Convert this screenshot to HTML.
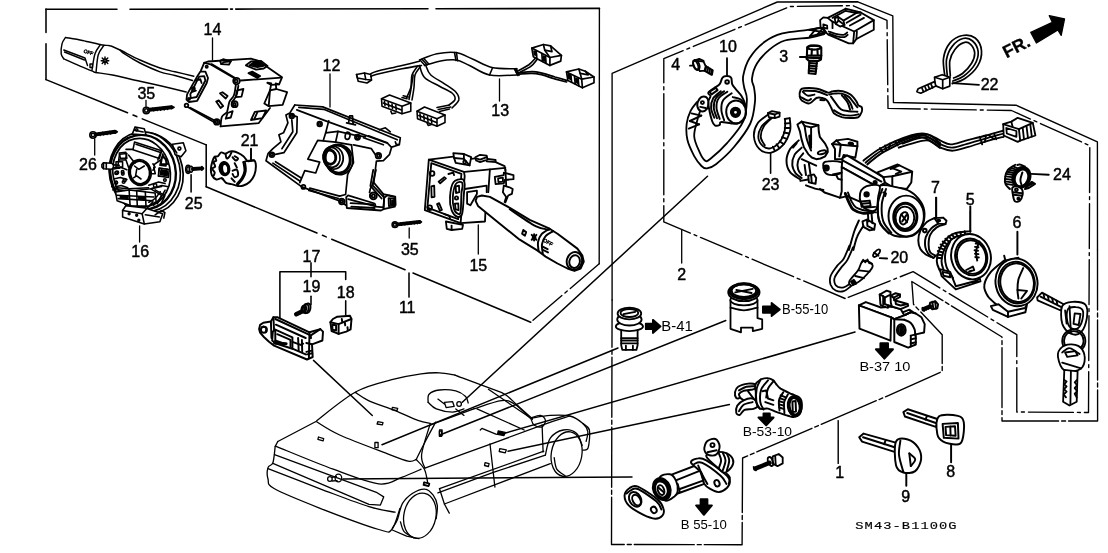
<!DOCTYPE html>
<html><head><meta charset="utf-8"><title>SM43-B1100G</title>
<style>
html,body{margin:0;padding:0;background:#fff;}
svg{display:block;filter:grayscale(1)}
svg *{vector-effect:none}
text{font-family:"Liberation Sans",sans-serif;fill:#000;stroke:#000;stroke-width:0.45px}
</style></head><body>
<svg width="1108" height="553" viewBox="0 0 1108 553" fill="none" stroke="#000" stroke-linejoin="round" stroke-linecap="round">
<polyline points="46.0,9.3 117.0,9.2" stroke-width="1.56"/>
<polyline points="130.0,9.2 227.6,9.1" stroke-width="1.56"/>
<polyline points="230.5,9.1 232.5,9.1" stroke-width="1.56"/>
<polyline points="235.7,9.1 428.0,8.8" stroke-width="1.56"/>
<polyline points="436.0,8.8 599.5,8.4" stroke-width="1.56"/>
<polyline points="46.0,9.0 46.0,32.5" stroke-width="1.56"/>
<polyline points="46.0,43.7 46.0,79.6" stroke-width="1.56"/>
<polyline points="46.0,79.6 206.2,144.9" stroke-width="1.56" stroke-dasharray="88 6 4 6"/>
<polyline points="206.2,144.9 206.2,186.8" stroke-width="1.56"/>
<polyline points="206.2,186.8 405.0,269.8" stroke-width="1.56" stroke-dasharray="120 6 4 6"/>
<polyline points="413.0,273.0 530.7,322.2" stroke-width="1.56"/>
<polyline points="612.1,300.0 612.1,73.4 777.3,2.0 857.8,1.8 892.8,15.8 893.4,102.5 1016.0,105.2 1097.4,141.9 1097.5,250.0" stroke-width="1.37"/>
<polyline points="1097.5,250.0 1097.6,421.0 1002.0,421.0 1002.0,337.0 911.8,281.5 913.5,304.3 942.2,334.7 942.2,371.4 885.0,397.0 742.6,458.0 742.1,544.7 611.5,544.5 612.1,300.0" stroke-width="1.37" stroke-dasharray="60 3 4 3"/>
<polyline points="845.1,298.5 663.8,221.9 663.8,58.7 790.0,6.5 853.0,5.6 887.0,20.3 888.0,108.4 1011.5,110.5 1089.8,145.7 1088.5,412.5 1016.8,412.0 1016.8,334.7 913.1,271.7 845.1,298.5" stroke-width="1.37" stroke-dasharray="45 4 3 4"/>
<polyline points="599.4,8.4 599.2,263.8" stroke-width="1.37"/>
<polyline points="599.2,263.8 530.7,322.2" stroke-width="1.37" stroke-dasharray="38 4 3 4"/>
<path d="M65.5,37.5C68.3,38.0 76.3,39.2 82.5,40.5C88.7,41.8 97.9,44.1 102.5,45.0C107.1,45.9 107.1,44.9 110.0,45.8C112.9,46.6 115.0,47.6 120.0,50.0C125.0,52.4 133.3,57.0 140.0,60.0C146.7,63.0 154.2,66.0 160.0,68.0C165.8,70.0 169.4,70.4 175.0,71.8C180.6,73.1 190.6,75.5 193.8,76.2" fill="none" stroke-width="1.43"/>
<path d="M65.5,37.5C64.9,38.5 62.7,41.0 62.0,43.8C61.3,46.5 61.0,51.2 61.2,53.8C61.5,56.2 63.3,57.9 63.8,58.8" fill="none" stroke-width="1.43"/>
<path d="M63.8,58.8C65.6,59.6 70.2,61.7 75.0,63.8C79.8,65.8 89.0,69.8 92.5,71.2C96.0,72.7 92.4,71.9 95.8,72.5C99.1,73.1 105.1,73.5 112.5,75.0C119.9,76.5 131.7,79.4 140.0,81.2C148.3,83.1 154.8,84.5 162.5,86.2C170.2,88.0 182.3,91.0 186.2,92.0" fill="none" stroke-width="1.43"/>
<path d="M100.5,44.5C99.6,46.0 96.4,49.5 95.0,53.8C93.6,58.0 92.5,67.3 92.0,70.0" fill="none" stroke-width="1.43"/>
<path d="M103.8,45.5C102.8,47.1 99.5,50.5 98.2,55.0C97.0,59.5 96.4,69.6 96.0,72.5" fill="none" stroke-width="1.43"/>
<path d="M120.0,50.0C120.8,50.7 121.7,52.1 125.0,54.2C128.3,56.4 134.2,60.1 140.0,63.0C145.8,65.9 154.2,69.7 160.0,71.8C165.8,73.8 169.6,74.0 175.0,75.5C180.4,77.0 189.6,79.7 192.5,80.5" fill="none" stroke-width="1.43"/>
<polyline points="63.8,50.0 85.0,58.0 87.5,65.5" stroke-width="1.43"/>
<polyline points="64.5,52.0 84.5,60.0" stroke-width="1.43"/>
<text x="88.0" y="54.0" font-size="5.0" text-anchor="middle" transform="rotate(18.0 88.0 54.0)">OFF</text>
<circle cx="105.0" cy="60.8" r="1.8" fill="none" stroke-width="1.43"/>
<polyline points="105.0,57.0 105.0,64.5" stroke-width="1.43"/>
<polyline points="101.2,60.8 108.8,60.8" stroke-width="1.43"/>
<polyline points="102.2,58.0 107.8,63.5" stroke-width="1.43"/>
<polyline points="107.8,58.0 102.2,63.5" stroke-width="1.43"/>
<circle cx="105.0" cy="60.8" r="1.2" fill="#fff" stroke-width="1.43"/>
<polygon points="90.0,64.0 92.5,64.0 92.5,67.5 90.0,67.5" stroke-width="1.43"/>
<polyline points="201.0,70.4 204.2,62.8 208.0,61.5 251.0,58.7 258.6,60.9 282.0,77.3 279.1,84.3 271.3,84.9 267.5,83.0" stroke-width="1.82"/>
<polyline points="204.2,62.8 211.8,64.7" stroke-width="1.82"/>
<polyline points="211.8,64.7 234.6,78.0" stroke-width="2.6"/>
<circle cx="206.7" cy="66.8" r="1.1" fill="none" stroke-width="1.82"/>
<polygon points="200.4,71.6 205.4,71.6 208.0,78.0 206.7,83.0 197.2,100.8 189.0,102.0 186.5,99.5 187.1,94.4 197.8,75.4" fill="#fff" stroke-width="1.82"/>
<polygon points="199.1,76.7 204.2,76.1 205.4,80.5 196.6,97.0 190.9,98.2 190.3,94.4" stroke-width="1.82"/>
<circle cx="193.4" cy="88.7" r="1.5" fill="none" stroke-width="1.82"/>
<polyline points="195.3,80.5 200.4,79.2 201.6,83.0" stroke-width="1.82"/>
<polyline points="192.2,91.9 195.9,90.6" stroke-width="1.82"/>
<circle cx="189.0" cy="98.9" r="1.0" fill="none" stroke-width="1.82"/>
<circle cx="236.5" cy="81.1" r="3.3" fill="none" stroke-width="1.82"/>
<circle cx="236.1" cy="81.1" r="1.5" fill="none" stroke-width="1.82"/>
<polyline points="240.9,80.5 281.4,77.7" stroke-width="1.82"/>
<polygon points="220.0,60.9 223.2,59.2 230.8,61.3 228.9,64.7 221.3,64.1" stroke-width="1.82"/>
<polyline points="221.3,64.1 223.8,62.2 230.8,61.3" stroke-width="1.82"/>
<polygon points="245.9,65.3 251.0,61.5 261.1,60.9 267.5,65.9 263.7,68.5 256.1,69.7" stroke-width="1.82"/>
<polygon points="249.7,65.3 252.9,63.0 260.5,62.8 263.7,65.9 257.3,67.2" stroke-width="1.82"/>
<polygon points="252.3,64.1 258.6,63.4 261.1,65.3 254.8,66.3" fill="#000" stroke-width="1.82"/>
<polygon points="248.5,73.2 252.3,71.6 260.1,76.1 257.3,78.0" stroke-width="1.82"/>
<polygon points="250.4,73.5 252.3,72.7 258.6,76.1 257.1,77.0" fill="#000" stroke-width="1.82"/>
<circle cx="186.5" cy="105.4" r="1.8" fill="none" stroke-width="1.82"/>
<polyline points="187.7,107.0 214.3,122.2" stroke-width="1.82"/>
<polyline points="190.3,107.7 213.7,120.0" stroke-width="1.82"/>
<circle cx="216.8" cy="121.9" r="2.8" fill="none" stroke-width="1.82"/>
<circle cx="216.8" cy="121.9" r="1.3" fill="none" stroke-width="1.82"/>
<polyline points="220.6,126.3 258.6,123.2 270.0,108.0" stroke-width="1.82"/>
<path d="M235.8,85.2C235.5,86.9 235.0,92.6 233.9,95.3C232.9,98.1 230.7,98.9 229.5,101.6C228.3,104.4 228.2,109.2 227.0,111.8C225.7,114.3 223.0,114.4 221.9,116.8C220.8,119.3 220.8,124.7 220.6,126.3" fill="none" stroke-width="1.82"/>
<path d="M238.4,85.8C238.0,87.4 237.5,92.6 236.5,95.3C235.4,98.1 232.8,101.1 232.0,102.3" fill="none" stroke-width="1.82"/>
<polygon points="237.1,90.3 243.4,89.0 241.5,96.6 235.8,97.2" stroke-width="1.82"/>
<polygon points="227.6,113.0 232.7,111.1 230.8,117.5 225.7,118.7" stroke-width="1.82"/>
<circle cx="234.6" cy="104.2" r="3.0" fill="none" stroke-width="1.82"/>
<circle cx="234.3" cy="104.2" r="1.3" fill="none" stroke-width="1.82"/>
<polygon points="220.0,93.4 222.5,92.2 227.6,95.9 225.7,98.5" stroke-width="1.82"/>
<polygon points="216.2,101.6 218.7,100.4 223.2,106.1 220.6,108.0" stroke-width="1.82"/>
<polyline points="267.5,82.7 271.3,83.3 270.0,90.3" stroke-width="1.82"/>
<polygon points="270.0,90.3 276.3,89.0 287.1,92.2 282.7,104.8 268.7,106.1 264.3,103.5" stroke-width="1.82"/>
<polyline points="270.0,90.3 268.7,106.1" stroke-width="1.82"/>
<polyline points="276.3,89.0 275.7,83.3 278.9,84.3" stroke-width="1.82"/>
<polygon points="254.8,111.8 266.2,110.5 262.4,118.1 251.0,120.0" stroke-width="1.82"/>
<polyline points="257.3,112.4 254.2,119.4" stroke-width="1.82"/>
<polyline points="294.8,105.0 322.7,106.9 400.3,137.8 399.3,144.8 391.7,147.1 389.4,154.7 383.4,160.7 376.4,161.1 373.8,182.6 383.4,194.1 395.3,196.5 395.7,205.0" stroke-width="1.69"/>
<polyline points="294.8,105.0 289.9,112.9 285.9,114.9 287.9,122.9 283.5,132.8 278.9,134.8 280.9,141.8 272.9,148.7 268.0,153.7 266.0,160.7 301.8,186.9 339.6,200.9 345.6,205.0" stroke-width="1.69"/>
<polyline points="296.8,109.9 325.7,120.9 387.4,143.2 391.3,147.1" stroke-width="1.69"/>
<polyline points="298.8,107.3 323.7,109.3 397.3,139.8" stroke-width="1.69"/>
<polyline points="291.8,114.9 297.2,116.9 296.8,132.8 283.9,152.7 274.3,154.7" stroke-width="1.69"/>
<polyline points="291.8,119.9 292.8,131.8 281.9,148.7" stroke-width="1.69"/>
<polyline points="272.9,163.1 299.8,181.0" stroke-width="1.69"/>
<polyline points="275.5,161.7 301.2,178.0" stroke-width="1.69"/>
<polyline points="308.8,190.5 338.6,198.5" stroke-width="1.69"/>
<polyline points="309.8,188.1 339.6,196.1" stroke-width="1.69"/>
<circle cx="291.8" cy="115.9" r="2.4" fill="none" stroke-width="1.69"/>
<circle cx="291.8" cy="115.9" r="1.2" fill="none" stroke-width="1.69"/>
<circle cx="319.7" cy="123.9" r="2.4" fill="none" stroke-width="1.69"/>
<circle cx="319.7" cy="123.9" r="1.2" fill="none" stroke-width="1.69"/>
<circle cx="357.5" cy="137.2" r="2.6" fill="none" stroke-width="1.69"/>
<circle cx="357.5" cy="137.2" r="1.2" fill="none" stroke-width="1.69"/>
<circle cx="378.4" cy="155.7" r="2.8" fill="none" stroke-width="1.69"/>
<circle cx="378.4" cy="155.7" r="1.4" fill="none" stroke-width="1.69"/>
<circle cx="271.9" cy="154.7" r="2.4" fill="none" stroke-width="1.69"/>
<circle cx="271.9" cy="154.7" r="1.2" fill="none" stroke-width="1.69"/>
<circle cx="303.4" cy="186.9" r="2.0" fill="none" stroke-width="1.69"/>
<circle cx="341.6" cy="200.5" r="2.0" fill="none" stroke-width="1.69"/>
<circle cx="372.4" cy="195.5" r="2.4" fill="none" stroke-width="1.69"/>
<circle cx="372.4" cy="195.5" r="1.2" fill="none" stroke-width="1.69"/>
<ellipse cx="347.6" cy="135.8" rx="2.4" ry="3.6" fill="none" transform="rotate(10.0 347.6 135.8)" stroke-width="1.69"/>
<polyline points="348.6,122.9 349.6,115.9 352.5,115.9 353.1,123.9" stroke-width="1.69"/>
<polyline points="346.6,122.9 355.5,124.9" stroke-width="1.69"/>
<polyline points="379.4,129.8 385.4,127.8 390.3,131.8" stroke-width="1.69"/>
<polyline points="395.3,141.8 396.3,144.8 398.3,144.4" stroke-width="1.69"/>
<polyline points="328.7,120.9 325.7,132.8 338.0,131.4 335.6,142.2 317.7,140.4 307.8,159.1 319.7,162.1 315.7,173.0 304.8,170.6 299.8,182.6" stroke-width="1.69"/>
<polyline points="325.7,132.8 323.3,140.4" stroke-width="1.69"/>
<polyline points="338.0,131.4 353.5,134.8 365.5,136.8" stroke-width="1.69"/>
<polyline points="351.5,144.8 353.5,162.7 347.6,174.6 345.6,194.5 339.6,196.1" stroke-width="1.69"/>
<polyline points="335.6,142.2 351.5,144.8" stroke-width="1.69"/>
<polyline points="353.5,144.8 371.4,148.7 375.4,154.7" stroke-width="1.69"/>
<polyline points="363.5,137.8 383.4,144.8" stroke-width="1.69"/>
<polyline points="368.5,135.8 387.4,142.8" stroke-width="1.69"/>
<polyline points="373.8,182.6 370.4,188.5 369.5,192.5" stroke-width="1.69"/>
<polyline points="383.4,194.1 384.4,205.0" stroke-width="1.69"/>
<polyline points="389.4,195.5 390.3,205.0" stroke-width="1.69"/>
<ellipse cx="339.2" cy="159.7" rx="13.5" ry="15.1" fill="#fff" transform="rotate(-10.0 339.2 159.7)" stroke-width="1.69"/>
<ellipse cx="338.0" cy="159.1" rx="11.5" ry="13.5" fill="none" transform="rotate(-10.0 338.0 159.1)" stroke-width="1.69"/>
<ellipse cx="333.2" cy="157.7" rx="10.0" ry="11.5" fill="#fff" transform="rotate(-10.0 333.2 157.7)" stroke-width="1.69"/>
<ellipse cx="331.6" cy="157.3" rx="8.4" ry="10.0" fill="none" transform="rotate(-10.0 331.6 157.3)" stroke-width="1.69"/>
<ellipse cx="330.0" cy="157.1" rx="5.2" ry="6.6" fill="#fff" transform="rotate(-10.0 330.0 157.1)" stroke-width="1.69"/>
<ellipse cx="338.0" cy="159.1" rx="12.5" ry="14.3" fill="none" transform="rotate(-10.0 338.0 159.1)" stroke-width="2.34"/>
<ellipse cx="330.0" cy="157.1" rx="6.0" ry="7.4" fill="none" transform="rotate(-10.0 330.0 157.1)" stroke-width="2.34"/>
<polygon points="346.2,197.2 348.1,195.3 374.7,203.5 375.9,206.7 383.5,207.3 384.2,197.8 387.3,195.3 394.9,197.2 394.9,206.7 383.5,209.2 381.0,210.5 346.8,208.0" fill="#fff" stroke-width="1.82"/>
<polyline points="348.1,199.1 374.7,206.1" stroke-width="1.82"/>
<polyline points="350.6,203.2 373.4,204.4" stroke-width="1.82"/>
<polyline points="351.3,206.7 374.7,208.0" stroke-width="1.82"/>
<polyline points="384.2,197.8 383.5,209.2" stroke-width="1.82"/>
<polygon points="388.6,198.1 393.9,198.6 393.9,205.7 388.9,206.2" stroke-width="1.82"/>
<polyline points="390.5,199.7 390.5,204.2 392.4,204.2 392.4,200.4" stroke-width="1.82"/>
<circle cx="341.8" cy="201.6" r="2.8" fill="#fff" stroke-width="1.82"/>
<circle cx="341.8" cy="201.6" r="1.3" fill="none" stroke-width="1.82"/>
<circle cx="373.4" cy="195.9" r="3.4" fill="#fff" stroke-width="1.82"/>
<circle cx="373.4" cy="195.9" r="1.6" fill="none" stroke-width="1.82"/>
<polyline points="375.9,170.0 372.4,185.2 383.8,197.2" stroke-width="1.82"/>
<polyline points="373.2,170.0 370.4,185.8 381.6,198.5" stroke-width="1.82"/>
<path d="M419.5,60.0C422.4,59.0 431.0,55.0 437.0,53.8C443.0,52.5 449.9,51.7 455.8,52.5C461.6,53.3 466.0,56.2 472.0,58.8C478.0,61.2 484.5,65.8 492.0,67.5C499.5,69.2 512.8,68.5 517.0,68.8" fill="none" stroke-width="1.56"/>
<path d="M424.5,65.5C427.0,64.8 434.3,62.2 439.5,61.2C444.7,60.3 450.8,59.3 455.8,60.0C460.8,60.7 463.9,63.0 469.5,65.5C475.1,68.0 481.6,73.4 489.5,75.0C497.4,76.6 512.4,75.0 517.0,75.0" fill="none" stroke-width="1.56"/>
<polyline points="420.0,60.0 425.0,65.5" stroke-width="1.56"/>
<polyline points="422.0,59.2 427.0,64.8" stroke-width="1.56"/>
<polyline points="424.0,58.8 428.8,64.0" stroke-width="1.56"/>
<polyline points="454.5,52.5 456.0,60.5" stroke-width="1.56"/>
<polyline points="456.5,52.5 457.5,60.8" stroke-width="1.56"/>
<polyline points="492.5,68.0 489.5,75.0" stroke-width="1.56"/>
<polyline points="514.5,68.8 517.5,75.0" stroke-width="1.56"/>
<polyline points="516.2,68.5 519.0,74.5" stroke-width="1.56"/>
<path d="M419.5,61.2C416.6,62.0 409.1,63.8 402.0,65.5C394.9,67.2 382.2,69.9 377.0,71.2C371.8,72.6 371.8,73.3 370.8,73.8" fill="none" stroke-width="1.56"/>
<path d="M421.5,65.5C418.2,66.0 409.4,67.3 402.0,68.8C394.6,70.2 382.2,73.0 377.0,74.2C371.8,75.5 371.8,76.1 370.8,76.5" fill="none" stroke-width="1.56"/>
<polygon points="356.5,74.5 364.5,73.0 370.8,74.5 371.5,80.0 367.0,83.0 358.2,81.2" stroke-width="1.56"/>
<polyline points="356.5,74.5 357.5,78.0 365.8,79.5 371.5,80.0" stroke-width="1.56"/>
<polyline points="365.8,79.5 364.5,73.0" stroke-width="1.56"/>
<path d="M417.5,66.2C416.6,67.7 413.1,71.5 412.0,75.0C410.9,78.5 411.7,83.7 410.8,87.5C409.8,91.3 407.2,96.2 406.5,98.0" fill="none" stroke-width="1.56"/>
<path d="M420.0,67.0C419.2,68.3 416.0,71.6 415.0,75.0C414.0,78.4 414.5,83.3 414.0,87.5C413.5,91.7 412.3,97.9 412.0,100.0" fill="none" stroke-width="1.56"/>
<path d="M413.2,75.0C412.8,77.5 411.5,85.9 410.8,90.0C410.0,94.1 409.3,97.9 409.0,99.5" fill="none" stroke-width="1.56"/>
<polygon points="381.5,98.8 389.5,95.0 410.8,103.0 410.8,111.2 402.0,113.8 382.0,106.2" fill="#fff" stroke-width="1.56"/>
<polyline points="381.5,98.8 402.0,106.2 402.0,113.8" stroke-width="1.56"/>
<polyline points="402.0,106.2 410.8,103.0" stroke-width="1.56"/>
<polyline points="384.5,101.2 385.0,105.5" stroke-width="1.56"/>
<polyline points="388.2,102.5 388.8,107.0" stroke-width="1.56"/>
<polyline points="392.0,104.0 392.5,108.5" stroke-width="1.56"/>
<polyline points="395.8,105.2 396.2,110.0" stroke-width="1.56"/>
<polyline points="383.2,103.0 401.5,110.0" stroke-width="1.56"/>
<polyline points="390.8,111.2 392.0,113.8 395.8,113.0" stroke-width="1.56"/>
<polyline points="402.0,97.5 407.0,98.8" stroke-width="1.56"/>
<polyline points="403.2,95.8 408.2,97.0" stroke-width="1.56"/>
<path d="M419.5,65.5C420.3,67.5 421.2,74.0 424.5,77.5C427.8,81.0 434.9,83.7 439.5,86.2C444.1,88.8 449.4,90.8 452.0,93.0C454.6,95.2 455.5,97.5 455.0,99.5C454.5,101.5 450.0,104.1 449.0,105.0" fill="none" stroke-width="1.56"/>
<path d="M425.8,65.5C426.6,67.1 427.6,72.0 430.8,75.0C433.9,78.0 440.3,80.9 444.5,83.8C448.7,86.6 453.4,89.3 455.8,92.0C458.1,94.7 459.4,97.3 458.8,100.0C458.1,102.7 453.1,106.7 452.0,108.0" fill="none" stroke-width="1.56"/>
<polygon points="417.0,111.2 424.5,107.0 445.0,115.0 445.0,122.5 437.0,126.2 417.5,118.8" fill="#fff" stroke-width="1.56"/>
<polyline points="417.0,111.2 437.0,118.8 437.0,126.2" stroke-width="1.56"/>
<polyline points="437.0,118.8 445.0,115.0" stroke-width="1.56"/>
<polyline points="420.0,113.8 420.5,118.5" stroke-width="1.56"/>
<polyline points="423.8,115.2 424.2,120.0" stroke-width="1.56"/>
<polyline points="427.5,116.8 428.0,121.5" stroke-width="1.56"/>
<polyline points="431.2,118.2 431.8,123.0" stroke-width="1.56"/>
<polyline points="418.8,115.5 436.5,122.5" stroke-width="1.56"/>
<polyline points="427.0,123.0 428.2,125.5 431.5,124.5" stroke-width="1.56"/>
<polyline points="437.0,107.5 449.5,105.0" stroke-width="1.56"/>
<polyline points="438.2,109.5 450.8,107.0" stroke-width="1.56"/>
<polyline points="439.5,111.5 449.5,109.0" stroke-width="1.56"/>
<polyline points="516.2,69.3 519.1,75.1" stroke-width="1.69"/>
<polyline points="515.0,69.6 517.9,75.4" stroke-width="1.69"/>
<path d="M518.8,70.5C520.5,69.5 526.1,66.7 528.9,64.7C531.7,62.6 534.3,59.3 535.4,58.2" fill="none" stroke-width="1.69"/>
<path d="M520.2,72.2C522.0,71.2 528.3,68.2 531.1,66.1C533.9,64.0 535.9,60.7 536.9,59.6" fill="none" stroke-width="1.69"/>
<path d="M518.8,72.6C521.7,72.5 530.1,71.2 536.1,71.9C542.2,72.6 549.8,75.5 554.9,77.0C560.1,78.4 565.2,80.0 567.2,80.6" fill="none" stroke-width="1.69"/>
<path d="M518.8,74.1C521.7,74.0 530.2,72.9 536.1,73.7C542.0,74.4 549.2,77.3 554.2,78.7C559.3,80.1 564.5,81.5 566.5,82.0" fill="none" stroke-width="1.69"/>
<polygon points="531.8,48.1 543.4,44.5 550.6,45.9 561.4,55.3 560.7,61.1 549.9,65.4 533.3,56.7" fill="#fff" stroke-width="1.69"/>
<polyline points="531.8,48.1 549.9,57.5 549.9,65.4" stroke-width="1.69"/>
<polyline points="549.9,57.5 561.4,55.3" stroke-width="1.69"/>
<polyline points="536.1,51.0 536.9,58.6" stroke-width="1.69"/>
<polyline points="541.9,54.1 542.4,61.5" stroke-width="1.69"/>
<polyline points="545.5,56.3 546.0,63.3" stroke-width="1.69"/>
<polyline points="543.4,44.5 544.8,50.2 552.0,51.7 550.6,45.9" stroke-width="1.69"/>
<polyline points="544.8,50.2 549.9,57.5" stroke-width="1.69"/>
<polygon points="534.0,51.0 536.1,51.7 536.4,55.3 534.4,54.6" fill="#000" stroke-width="1.69"/>
<polygon points="543.4,56.0 545.1,56.9 545.4,61.1 543.7,60.4" fill="#000" stroke-width="1.69"/>
<polygon points="566.5,71.9 578.8,69.0 585.3,71.2 594.0,77.0 594.0,82.8 582.4,87.8 567.9,80.6" fill="#fff" stroke-width="1.69"/>
<polyline points="566.5,71.9 581.7,79.2 582.4,87.8" stroke-width="1.69"/>
<polyline points="581.7,79.2 594.0,77.0" stroke-width="1.69"/>
<polyline points="570.8,74.5 571.6,82.0" stroke-width="1.69"/>
<polyline points="574.5,76.6 575.2,83.8" stroke-width="1.69"/>
<polyline points="578.1,78.3 578.8,85.8" stroke-width="1.69"/>
<polyline points="578.8,69.0 580.2,73.4 588.2,74.8 585.3,71.2" stroke-width="1.69"/>
<polyline points="580.2,73.4 581.7,79.2" stroke-width="1.69"/>
<polygon points="568.2,74.1 570.3,75.1 570.6,79.2 568.7,78.3" fill="#000" stroke-width="1.69"/>
<polygon points="575.9,78.4 577.6,79.3 577.9,83.2 576.2,82.3" fill="#000" stroke-width="1.69"/>
<polygon points="428.8,159.7 463.9,171.9 464.7,175.9 460.6,223.2 424.8,210.1" stroke-width="1.82"/>
<polygon points="431.3,163.2 461.4,173.8 458.2,219.1 427.4,207.7" stroke-width="1.82"/>
<polyline points="428.8,159.7 453.3,156.7" stroke-width="1.82"/>
<polyline points="471.2,158.8 475.3,158.4" stroke-width="1.82"/>
<polyline points="495.6,162.1 504.6,166.2 505.4,170.2" stroke-width="1.82"/>
<polyline points="464.7,171.9 489.9,169.4 505.4,167.8" stroke-width="1.82"/>
<polyline points="489.9,169.4 488.3,192.2" stroke-width="1.82"/>
<polyline points="505.4,169.4 506.2,185.7" stroke-width="1.82"/>
<polygon points="453.3,153.1 463.9,154.0 471.2,157.2 469.6,165.4 455.7,162.9 454.1,158.0" fill="#fff" stroke-width="1.82"/>
<polyline points="454.1,158.0 463.9,158.8 469.6,165.4" stroke-width="1.82"/>
<polyline points="463.9,154.0 463.9,158.8" stroke-width="1.82"/>
<circle cx="464.7" cy="162.1" r="1.5" fill="none" stroke-width="1.82"/>
<polygon points="475.3,157.2 480.1,154.8 486.7,155.6 487.5,159.7 480.1,162.1 476.1,160.5" fill="#fff" stroke-width="1.82"/>
<polyline points="476.1,158.4 480.1,159.7 486.7,157.2" stroke-width="1.82"/>
<polyline points="487.5,158.8 495.6,160.0 495.6,162.1 486.7,161.3" stroke-width="1.82"/>
<polyline points="494.8,176.8 503.8,175.1 503.8,172.7 513.5,175.1 513.5,179.2 504.6,180.0 503.8,183.3 495.6,184.1 494.8,176.8" stroke-width="1.82"/>
<polygon points="498.1,178.4 502.9,177.6 502.9,181.6 498.4,182.1" stroke-width="1.82"/>
<polyline points="503.8,185.7 509.5,187.3 512.7,189.0 511.9,193.9 508.2,195.5 505.4,202.3" stroke-width="1.82"/>
<polyline points="503.8,185.7 502.9,192.2 506.2,197.1 504.6,202.0" stroke-width="1.82"/>
<path d="M453.3,182.5C455.3,179.5 460.3,178.9 462.2,179.2C464.1,179.5 464.4,181.6 464.7,184.1C464.9,186.5 464.3,189.0 463.9,193.9C463.5,198.7 463.3,209.6 462.2,213.4C461.1,217.2 459.1,217.2 457.3,216.7C455.6,216.1 452.9,213.4 451.6,210.1C450.4,206.9 449.7,201.7 450.0,197.1C450.3,192.5 451.2,185.4 453.3,182.5Z" fill="#fff" stroke-width="1.82"/>
<path d="M455.7,184.1C457.2,181.6 460.3,181.9 461.4,182.1C462.6,182.4 462.6,183.8 462.6,185.7C462.6,187.7 461.7,189.5 461.4,193.9C461.1,198.2 461.2,208.5 460.6,211.8C460.0,215.1 458.8,214.1 457.7,213.7C456.6,213.3 454.9,212.1 454.1,209.3C453.3,206.6 452.5,201.3 452.8,197.1C453.1,192.9 454.3,186.6 455.7,184.1Z" fill="none" stroke-width="1.82"/>
<circle cx="456.5" cy="197.9" r="1.6" fill="none" stroke-width="1.82"/>
<polygon points="455.7,186.5 459.0,185.7 459.3,192.2 456.0,193.0" stroke-width="1.82"/>
<polygon points="454.9,203.6 458.2,203.3 458.6,210.1 455.7,209.3" stroke-width="1.82"/>
<polygon points="438.6,181.6 444.3,177.2 445.9,178.4 440.2,183.3" stroke-width="1.82"/>
<polygon points="431.3,186.5 434.2,185.7 434.5,196.8 431.6,197.4" stroke-width="1.82"/>
<polygon points="437.0,204.0 439.1,203.1 441.9,209.8 439.8,210.6" stroke-width="1.82"/>
<circle cx="432.1" cy="173.5" r="2.3" fill="none" stroke-width="1.82"/>
<circle cx="429.7" cy="207.7" r="2.3" fill="none" stroke-width="1.82"/>
<polyline points="448.4,174.0 453.3,172.7 454.1,175.1" stroke-width="1.82"/>
<polyline points="444.3,214.2 449.2,215.8 450.0,218.3" stroke-width="1.82"/>
<polyline points="464.7,189.0 486.7,185.7 486.7,192.2" stroke-width="1.82"/>
<polygon points="467.1,192.2 476.9,190.6 476.9,193.9 470.4,205.3 467.1,203.6" stroke-width="1.82"/>
<polyline points="460.6,223.2 485.0,221.5 485.4,211.8" stroke-width="1.82"/>
<polygon points="445.9,221.5 446.8,228.9 451.6,230.0 462.2,228.9 463.0,224.8" fill="#fff" stroke-width="1.82"/>
<polyline points="451.6,225.6 451.6,230.0" stroke-width="1.82"/>
<polygon points="477.0,196.9 481.9,195.5 489.9,196.9 509.8,207.8 529.7,219.8 549.6,228.7 557.5,233.7 577.4,248.6 582.4,255.6 583.8,261.6 580.6,268.5 574.4,270.9 567.5,268.5 557.5,263.5 545.6,256.6 537.6,250.6 519.7,239.7 499.8,223.8 478.0,205.9 475.6,200.9" fill="#fff" stroke-width="1.95"/>
<path d="M549.6,228.7C548.2,229.6 543.5,231.9 541.6,234.1C539.7,236.3 538.5,239.2 538.0,242.1C537.5,244.9 538.5,249.5 538.6,251.0" fill="none" stroke-width="1.95"/>
<path d="M553.2,231.1C551.9,232.0 547.4,233.9 545.6,236.1C543.7,238.3 542.5,241.1 542.0,244.1C541.5,247.0 542.7,252.0 542.8,253.6" fill="none" stroke-width="1.95"/>
<path d="M509.8,209.2C514.1,212.1 529.1,222.7 535.6,226.2C542.2,229.6 546.9,229.1 549.2,229.7" fill="none" stroke-width="1.95"/>
<ellipse cx="574.4" cy="261.0" rx="7.6" ry="9.0" fill="#fff" transform="rotate(15.0 574.4 261.0)" stroke-width="1.95"/>
<ellipse cx="574.6" cy="261.6" rx="5.2" ry="6.4" fill="none" transform="rotate(15.0 574.6 261.6)" stroke-width="1.95"/>
<text x="547.2" y="243.7" font-size="5.0" text-anchor="middle" transform="rotate(30.0 547.2 243.7)">OFF</text>
<polyline points="542.6,246.6 547.6,249.2" stroke-width="1.95"/>
<polyline points="543.2,250.0 548.0,252.4" stroke-width="1.95"/>
<polyline points="523.3,230.1 526.1,232.1 524.9,235.7 522.1,233.7 523.3,230.1" stroke-width="1.95"/>
<circle cx="534.1" cy="237.3" r="1.4" fill="none" stroke-width="1.95"/>
<polyline points="531.7,234.9 536.4,239.7" stroke-width="1.95"/>
<polyline points="536.4,234.9 531.7,239.7" stroke-width="1.95"/>
<polyline points="534.1,234.1 534.1,240.5" stroke-width="1.95"/>
<circle cx="394.9" cy="224.7" r="2.8" fill="#fff" stroke-width="1.56"/>
<circle cx="394.9" cy="224.7" r="1.5" fill="none" stroke-width="1.56"/>
<polyline points="397.7,224.4 419.6,221.9" stroke-width="3.9"/>
<polyline points="400.6,222.9 401.6,225.4" stroke-width="1.3"/>
<polyline points="403.8,222.5 404.8,225.1" stroke-width="1.3"/>
<polyline points="407.0,222.2 408.0,224.7" stroke-width="1.3"/>
<polyline points="410.1,221.9 411.1,224.4" stroke-width="1.3"/>
<polyline points="413.3,221.5 414.3,224.1" stroke-width="1.3"/>
<polyline points="416.5,221.3 417.5,223.8" stroke-width="1.3"/>
<polyline points="419.6,220.9 421.5,221.9 419.6,223.2" stroke-width="1.56"/>
<ellipse cx="146.9" cy="173.2" rx="36.0" ry="40.8" fill="none" transform="rotate(-12.0 146.9 173.2)" stroke-width="1.69"/>
<ellipse cx="144.7" cy="171.9" rx="35.4" ry="40.1" fill="#fff" transform="rotate(-12.0 144.7 171.9)" stroke-width="1.69"/>
<ellipse cx="141.6" cy="172.5" rx="28.6" ry="34.3" fill="none" transform="rotate(-12.0 141.6 172.5)" stroke-width="1.69"/>
<ellipse cx="143.0" cy="172.1" rx="32.6" ry="37.3" fill="none" transform="rotate(-12.0 143.0 172.1)" stroke-width="2.34"/>
<polygon points="132.3,134.1 135.1,126.9 144.3,128.7 146.0,135.0" fill="#fff" stroke-width="1.56"/>
<polyline points="134.5,130.2 143.2,131.9" stroke-width="1.56"/>
<circle cx="136.7" cy="129.8" r="1.1" fill="none" stroke-width="1.56"/>
<polygon points="172.5,144.3 183.3,142.8 185.9,150.8 181.1,156.7 175.1,154.5" fill="#fff" stroke-width="1.56"/>
<circle cx="179.4" cy="148.6" r="1.5" fill="none" stroke-width="1.56"/>
<polyline points="173.6,147.6 176.8,153.0" stroke-width="1.56"/>
<polygon points="101.9,164.5 103.5,162.7 111.7,163.2 113.4,164.9 113.4,167.5 111.7,169.3 103.5,168.8 101.9,167.1" fill="#fff" stroke-width="1.56"/>
<polyline points="106.3,163.0 106.3,169.0" stroke-width="1.56"/>
<polyline points="103.5,162.7 103.5,168.8" stroke-width="1.56"/>
<polyline points="113.4,164.9 119.3,165.3" stroke-width="1.56"/>
<polyline points="113.4,167.5 119.3,168.2" stroke-width="1.56"/>
<polygon points="134.5,142.1 161.6,150.8 159.4,158.4 133.0,149.7" stroke-width="1.56"/>
<polyline points="136.0,144.3 159.9,152.3" stroke-width="1.56"/>
<polygon points="119.3,153.0 125.8,152.3 126.9,158.4 120.4,158.4" stroke-width="1.56"/>
<polygon points="161.6,157.3 166.4,158.4 166.0,166.0 159.9,165.3" stroke-width="1.56"/>
<polygon points="116.0,161.7 122.6,161.7 122.6,167.1 116.0,167.1" stroke-width="1.56"/>
<ellipse cx="139.9" cy="172.5" rx="11.3" ry="13.0" fill="#fff" transform="rotate(-10.0 139.9 172.5)" stroke-width="1.56"/>
<ellipse cx="139.9" cy="172.5" rx="10.0" ry="11.7" fill="none" transform="rotate(-10.0 139.9 172.5)" stroke-width="2.34"/>
<polyline points="134.5,166.0 138.8,169.3 144.3,166.0" stroke-width="1.56"/>
<polyline points="133.4,177.9 136.7,175.8 141.0,179.0" stroke-width="1.56"/>
<polyline points="136.7,169.3 135.6,175.8" stroke-width="1.56"/>
<circle cx="117.1" cy="172.5" r="1.5" fill="none" stroke-width="1.56"/>
<circle cx="122.6" cy="171.9" r="1.3" fill="none" stroke-width="1.56"/>
<circle cx="124.7" cy="180.1" r="1.5" fill="none" stroke-width="1.56"/>
<circle cx="116.0" cy="182.3" r="1.3" fill="none" stroke-width="1.56"/>
<circle cx="155.1" cy="185.5" r="1.7" fill="none" stroke-width="1.56"/>
<circle cx="161.6" cy="173.6" r="2.0" fill="none" stroke-width="1.56"/>
<circle cx="164.9" cy="180.1" r="1.3" fill="none" stroke-width="1.56"/>
<polygon points="159.0,168.2 168.1,169.3 167.7,176.8 158.4,176.2" stroke-width="1.56"/>
<polyline points="152.9,163.8 155.1,167.1 152.9,170.3" stroke-width="1.56"/>
<polyline points="111.7,186.6 118.2,189.9 131.2,191.0 150.8,188.8 161.6,186.6" stroke-width="1.56"/>
<polyline points="112.8,189.9 117.1,187.7 129.1,188.8 148.6,187.7" stroke-width="1.56"/>
<polygon points="115.6,192.0 129.1,189.9 155.1,193.1 156.2,201.8 148.6,206.1 131.2,205.7 117.1,200.7" fill="#fff" stroke-width="1.56"/>
<polyline points="117.1,195.3 154.0,197.0" stroke-width="1.56"/>
<polyline points="118.2,198.6 152.9,200.7" stroke-width="1.56"/>
<polyline points="129.1,189.9 130.1,205.7" stroke-width="1.56"/>
<polyline points="136.7,191.0 137.3,206.1" stroke-width="1.56"/>
<polyline points="145.3,192.0 146.0,206.1" stroke-width="1.56"/>
<polygon points="120.4,195.7 128.0,196.2 128.0,198.3 120.4,197.9" fill="#000" stroke-width="1.56"/>
<polygon points="138.8,197.0 144.3,197.5 144.3,199.6 138.8,199.2" fill="#000" stroke-width="1.56"/>
<polyline points="150.8,188.8 161.6,195.3 157.3,204.0" stroke-width="1.56"/>
<polyline points="155.1,189.9 164.9,195.7 160.5,205.1" stroke-width="1.56"/>
<polygon points="122.6,210.5 125.8,205.7 145.3,207.9 162.7,213.7 159.9,221.8 144.3,223.9 122.6,217.0" fill="#fff" stroke-width="1.56"/>
<polyline points="122.6,210.5 142.1,213.7 144.3,223.9" stroke-width="1.56"/>
<polyline points="142.1,213.7 152.9,201.8" stroke-width="1.56"/>
<polyline points="145.3,214.8 159.4,217.0" stroke-width="1.56"/>
<circle cx="129.1" cy="213.7" r="0.9" fill="none" stroke-width="1.56"/>
<circle cx="136.7" cy="215.3" r="0.9" fill="none" stroke-width="1.56"/>
<circle cx="138.8" cy="220.3" r="0.9" fill="none" stroke-width="1.56"/>
<polyline points="155.1,214.8 161.6,210.5 164.9,212.7 163.8,218.1" stroke-width="1.56"/>
<polyline points="128.5,155.1 135.0,163.2" stroke-width="1.56"/>
<polyline points="126.0,149.4 132.6,149.4" stroke-width="1.56"/>
<polyline points="153.7,164.9 160.5,160.0" stroke-width="1.56"/>
<polyline points="157.8,160.0 161.0,151.9" stroke-width="1.56"/>
<polygon points="119.5,154.3 126.9,153.5 125.2,160.0 118.7,160.0" stroke-width="1.56"/>
<polygon points="162.7,154.0 167.5,164.1 161.0,164.1" stroke-width="1.56"/>
<polygon points="159.4,168.1 169.2,169.8 168.4,177.4 158.6,175.8" fill="#fff" stroke-width="1.56"/>
<polygon points="161.0,169.8 167.5,170.9 167.1,175.8 160.5,174.6" fill="#000" stroke-width="1.56"/>
<polyline points="153.7,167.3 155.3,173.8 152.1,173.8" stroke-width="1.56"/>
<polyline points="148.8,185.2 158.6,182.0 165.1,183.6" stroke-width="1.56"/>
<polyline points="152.1,188.5 161.8,185.5 168.4,186.8" stroke-width="1.56"/>
<path d="M160.2,191.7C159.4,192.8 157.2,196.5 155.3,198.2C153.4,200.0 149.9,201.6 148.8,202.3" fill="none" stroke-width="1.56"/>
<path d="M165.1,190.1C164.3,191.5 162.1,195.7 160.2,198.2C158.3,200.7 154.8,203.9 153.7,205.1" fill="none" stroke-width="1.56"/>
<polyline points="113.8,168.9 121.2,167.6 126.9,169.8" stroke-width="1.56"/>
<polyline points="114.6,178.7 120.3,177.4 126.9,179.5" stroke-width="1.56"/>
<polyline points="115.5,186.8 121.2,185.5 127.7,187.7" stroke-width="1.56"/>
<circle cx="116.3" cy="173.0" r="1.5" fill="none" stroke-width="1.56"/>
<circle cx="122.8" cy="173.8" r="1.3" fill="none" stroke-width="1.56"/>
<circle cx="116.3" cy="182.8" r="1.3" fill="none" stroke-width="1.56"/>
<circle cx="123.6" cy="182.0" r="1.3" fill="none" stroke-width="1.56"/>
<polyline points="126.0,160.0 128.5,167.3" stroke-width="1.56"/>
<polyline points="118.7,160.0 117.9,165.7" stroke-width="1.56"/>
<circle cx="146.3" cy="110.4" r="3.2" fill="#fff" stroke-width="1.56"/>
<circle cx="146.3" cy="110.4" r="1.7" fill="none" stroke-width="1.56"/>
<polyline points="149.4,109.8 171.4,107.2" stroke-width="3.9"/>
<polyline points="152.6,108.1 153.8,111.0" stroke-width="1.3"/>
<polyline points="156.1,107.8 157.3,110.7" stroke-width="1.3"/>
<polyline points="159.6,107.5 160.7,110.4" stroke-width="1.3"/>
<polyline points="163.1,107.2 164.2,110.1" stroke-width="1.3"/>
<polyline points="166.5,106.7 167.7,109.6" stroke-width="1.3"/>
<polyline points="171.4,106.1 174.1,107.2 171.4,108.7" stroke-width="1.56"/>
<circle cx="93.0" cy="135.0" r="3.2" fill="#fff" stroke-width="1.56"/>
<circle cx="93.0" cy="135.0" r="1.7" fill="none" stroke-width="1.56"/>
<polyline points="96.2,134.4 115.0,131.8" stroke-width="3.9"/>
<polyline points="99.1,132.7 100.2,135.6" stroke-width="1.3"/>
<polyline points="102.6,132.1 103.7,135.0" stroke-width="1.3"/>
<polyline points="106.0,131.8 107.2,134.7" stroke-width="1.3"/>
<polyline points="109.5,131.3 110.7,134.2" stroke-width="1.3"/>
<polyline points="115.0,130.7 117.3,131.8 115.0,133.3" stroke-width="1.56"/>
<ellipse cx="188.1" cy="169.3" rx="2.4" ry="4.1" fill="#fff" transform="rotate(0.0 188.1 169.3)" stroke-width="1.56"/>
<ellipse cx="188.1" cy="169.3" rx="1.3" ry="2.6" fill="none" transform="rotate(0.0 188.1 169.3)" stroke-width="1.56"/>
<ellipse cx="191.1" cy="169.3" rx="1.5" ry="3.0" fill="#fff" transform="rotate(0.0 191.1 169.3)" stroke-width="1.56"/>
<polyline points="192.9,169.0 201.8,168.4" stroke-width="3.9"/>
<polyline points="201.8,166.6 203.5,168.4 201.8,170.1" stroke-width="1.56"/>
<polyline points="191.1,174.7 191.1,192.0" stroke-width="1.56"/>
<path d="M210.9,168.7C210.9,166.3 211.9,163.0 212.5,161.1C213.1,159.1 213.8,157.5 214.7,156.7C215.6,155.9 216.8,156.9 217.9,156.2C219.0,155.4 219.9,152.8 221.2,152.4C222.4,152.0 224.2,153.8 225.5,153.7C226.8,153.6 227.6,152.2 228.8,151.8C229.9,151.4 231.0,151.1 232.6,151.3C234.1,151.5 236.2,152.1 238.0,152.9C239.8,153.7 241.8,154.8 243.4,156.2C245.1,157.5 246.0,160.3 247.8,161.1C249.6,161.8 252.9,159.6 254.3,160.5C255.6,161.4 255.9,164.0 255.9,166.5C255.9,168.9 255.3,172.6 254.3,175.2C253.3,177.7 251.8,180.0 249.9,181.7C248.1,183.4 245.4,184.8 243.4,185.5C241.4,186.2 240.0,186.3 238.0,186.0C236.0,185.8 233.5,184.6 231.5,184.1C229.5,183.5 227.7,183.8 226.1,182.8C224.4,181.8 223.3,178.8 221.7,178.2C220.1,177.7 217.9,180.0 216.3,179.5C214.7,179.0 212.8,177.0 211.9,175.2C211.0,173.4 210.8,171.0 210.9,168.7Z" fill="#fff" stroke-width="1.95"/>
<path d="M243.4,162.1C244.0,162.0 244.9,161.3 246.7,161.1C248.5,160.8 253.0,160.6 254.3,160.5" fill="none" stroke-width="1.95"/>
<path d="M245.1,163.0C245.2,164.3 246.2,168.3 245.8,170.8C245.5,173.4 244.2,176.2 242.9,178.4C241.6,180.7 238.8,183.4 238.0,184.4" fill="none" stroke-width="1.95"/>
<path d="M243.4,162.1C243.6,163.6 244.8,168.2 244.5,170.8C244.2,173.5 243.1,175.7 241.8,177.9C240.5,180.1 237.7,183.0 236.9,184.1" fill="none" stroke-width="1.95"/>
<ellipse cx="224.4" cy="168.7" rx="4.9" ry="6.7" fill="none" transform="rotate(-8.0 224.4 168.7)" stroke-width="1.95"/>
<ellipse cx="225.2" cy="168.9" rx="3.0" ry="4.8" fill="none" transform="rotate(-8.0 225.2 168.9)" stroke-width="1.95"/>
<ellipse cx="224.8" cy="168.8" rx="4.0" ry="5.8" fill="none" transform="rotate(-8.0 224.8 168.8)" stroke-width="2.86"/>
<path d="M214.7,156.7C214.9,157.3 216.5,159.6 216.3,160.5C216.1,161.4 213.8,161.1 213.6,162.1C213.4,163.1 215.4,165.4 215.2,166.5C215.0,167.6 212.3,167.7 212.2,168.7C212.1,169.7 214.4,171.3 214.7,172.5C214.9,173.6 213.8,175.2 213.6,175.7" fill="none" stroke-width="1.95"/>
<path d="M225.5,153.7C225.7,154.5 226.0,157.8 226.6,158.3C227.2,158.9 228.5,157.7 229.3,156.7C230.1,155.7 231.1,153.1 231.5,152.4" fill="none" stroke-width="1.95"/>
<path d="M232.6,157.3C233.1,157.8 234.9,160.3 235.8,160.5C236.7,160.7 238.2,159.1 238.0,158.3C237.8,157.6 235.3,156.5 234.7,156.2" fill="none" stroke-width="1.95"/>
<polyline points="234.7,163.2 236.9,167.6" stroke-width="1.95"/>
<path d="M232.6,170.8C233.3,170.6 236.0,169.0 236.9,169.7C237.8,170.5 238.4,173.9 238.0,175.2C237.6,176.4 235.6,177.5 234.7,177.3C233.8,177.2 232.9,174.6 232.6,174.1" fill="none" stroke-width="1.95"/>
<polyline points="231.5,178.4 234.7,181.7" stroke-width="1.95"/>
<polyline points="221.7,178.2 223.3,179.5" stroke-width="1.95"/>
<polyline points="251.0,148.6 251.0,160.2" stroke-width="1.95"/>
<polygon points="259.1,328.9 260.1,324.9 263.3,322.8 270.9,321.5 273.4,317.3 277.2,317.1 309.5,332.3 320.3,329.1 323.0,331.6 322.4,340.5 312.0,344.3 312.7,357.0 307.0,359.5 274.1,345.6 269.0,341.8 263.9,337.0 260.1,332.7" fill="#fff" stroke-width="1.95"/>
<circle cx="263.9" cy="329.7" r="3.0" fill="none" stroke-width="1.95"/>
<path d="M262.0,327.2C262.3,327.1 263.2,326.4 263.9,326.6C264.6,326.8 265.9,327.6 266.2,328.5C266.5,329.3 265.9,331.1 265.8,331.6" fill="none" stroke-width="1.95"/>
<polyline points="275.3,319.0 309.5,334.8 310.8,338.0" stroke-width="1.95"/>
<polyline points="275.9,324.7 305.7,338.0" stroke-width="1.95"/>
<polyline points="273.4,317.3 274.1,330.4" stroke-width="1.95"/>
<polyline points="270.9,321.5 271.5,338.0" stroke-width="1.95"/>
<polyline points="309.5,332.3 308.9,357.6" stroke-width="1.95"/>
<polyline points="312.0,344.3 306.3,343.0" stroke-width="1.95"/>
<polyline points="320.3,329.1 310.8,335.4 310.8,338.0" stroke-width="1.95"/>
<polygon points="272.8,331.6 275.3,329.7 292.4,337.3 292.4,348.7 275.3,343.3 272.2,340.5" fill="#fff" stroke-width="1.95"/>
<polyline points="275.3,329.7 275.3,343.3" stroke-width="1.95"/>
<polyline points="277.2,334.2 290.5,339.9 290.5,346.2" stroke-width="1.95"/>
<polyline points="275.3,340.5 284.2,343.7" stroke-width="1.95"/>
<polyline points="274.7,343.0 286.1,343.7" stroke-width="3.12"/>
<polyline points="292.4,341.8 300.6,344.9 303.2,343.7" stroke-width="1.95"/>
<polyline points="298.1,338.0 298.7,350.6" stroke-width="1.95"/>
<polyline points="301.9,339.9 302.2,351.3" stroke-width="1.95"/>
<polyline points="306.3,351.9 312.0,350.6" stroke-width="1.95"/>
<polyline points="307.0,354.4 312.3,353.2" stroke-width="1.95"/>
<polyline points="292.4,348.7 305.7,354.4" stroke-width="1.95"/>
<ellipse cx="307.6" cy="308.2" rx="2.8" ry="4.8" fill="#fff" transform="rotate(10.0 307.6 308.2)" stroke-width="1.95"/>
<ellipse cx="305.7" cy="308.6" rx="2.8" ry="4.6" fill="none" transform="rotate(10.0 305.7 308.6)" stroke-width="1.95"/>
<ellipse cx="303.8" cy="309.1" rx="2.3" ry="3.5" fill="none" transform="rotate(10.0 303.8 309.1)" stroke-width="1.95"/>
<polyline points="296.2,314.2 301.9,311.4" stroke-width="4.42"/>
<polyline points="297.5,312.7 298.5,314.6" stroke-width="1.3"/>
<polyline points="299.1,311.9 300.1,313.8" stroke-width="1.3"/>
<polyline points="295.6,313.7 296.6,315.2" stroke-width="1.95"/>
<polygon points="330.4,322.2 332.9,319.0 337.3,316.7 350.0,315.8 351.5,319.0 350.6,329.4 346.2,331.6 338.6,333.9 331.6,331.0" fill="#fff" stroke-width="1.95"/>
<polyline points="330.4,322.2 338.6,324.1 338.6,333.9" stroke-width="1.95"/>
<polyline points="338.6,324.1 351.3,319.0" stroke-width="1.95"/>
<polygon points="332.3,324.7 336.1,325.3 336.1,330.4 332.5,329.7" stroke-width="1.95"/>
<polyline points="341.8,319.0 342.2,321.5" stroke-width="1.95"/>
<polyline points="344.9,322.8 345.2,325.3" stroke-width="1.95"/>
<polyline points="347.5,327.2 347.7,329.1" stroke-width="1.95"/>
<polyline points="279.9,318.6 279.9,271.8 345.7,271.8 345.7,279.4" stroke-width="1.56"/>
<polyline points="311.0,262.9 311.0,276.8" stroke-width="1.56"/>
<polyline points="311.0,296.3 311.0,304.7" stroke-width="1.56"/>
<polyline points="345.7,300.9 345.7,314.8" stroke-width="1.56"/>
<polyline points="409.0,273.0 409.0,297.1" stroke-width="1.56"/>
<path d="M316.9,420.4C323.4,415.6 343.5,398.5 356.0,391.7C368.5,384.9 381.0,382.6 391.8,379.7C402.7,376.7 413.2,374.9 421.1,373.8C429.0,372.7 433.7,372.6 439.4,372.8C445.0,373.0 452.4,374.7 455.0,375.1" fill="none" stroke-width="1.3"/>
<path d="M355.3,392.4C357.6,393.8 362.4,397.8 369.0,400.8C375.6,403.9 386.9,407.3 395.1,410.6C403.2,413.9 411.9,418.2 417.9,420.4C423.8,422.5 428.7,423.1 430.9,423.6" fill="none" stroke-width="1.3"/>
<path d="M316.9,422.0C320.7,424.2 328.3,429.9 339.7,435.0C351.1,440.2 373.9,448.6 385.3,452.9C396.7,457.3 402.9,460.0 408.1,461.1C413.3,462.2 414.9,459.7 416.2,459.5" fill="none" stroke-width="1.3"/>
<path d="M435.8,422.0C433.9,425.5 427.6,436.9 424.4,443.2C421.1,449.4 417.6,456.7 416.2,459.5" fill="none" stroke-width="1.3"/>
<polyline points="277.8,441.5 316.9,421.0" stroke-width="1.3"/>
<path d="M275.2,446.4 L277.8,441.5" fill="none" stroke-width="1.3"/>
<path d="M276.2,446.4C285.7,450.2 316.1,463.0 333.2,469.2C350.3,475.5 367.4,482.5 378.8,483.9C390.2,485.2 394.5,479.8 401.6,477.4C408.6,474.9 417.9,470.6 421.1,469.2" fill="none" stroke-width="1.3"/>
<path d="M275.2,446.4C274.8,449.1 274.1,459.2 272.9,462.7C271.7,466.2 268.8,464.9 268.0,467.6C267.2,470.3 266.9,475.5 268.0,479.0C269.1,482.5 265.9,483.9 274.5,488.8C283.2,493.7 302.8,501.5 320.1,508.3C337.5,515.1 366.8,526.0 378.8,529.5C390.7,533.0 388.3,533.0 391.8,529.5C395.3,526.0 398.6,511.9 400.0,508.3" fill="none" stroke-width="1.3"/>
<polyline points="274.5,454.6 377.1,492.7 383.7,496.9 380.4,505.1 369.0,504.4 272.9,463.4" stroke-width="1.3"/>
<path d="M268.0,468.6C276.7,471.9 303.3,482.4 320.1,488.8C337.0,495.1 356.5,502.8 369.0,506.7C381.5,510.6 390.7,511.3 395.1,512.2" fill="none" stroke-width="1.3"/>
<path d="M416.2,459.5C417.6,461.1 422.5,465.4 424.4,469.2C426.3,473.0 427.1,480.1 427.6,482.3" fill="none" stroke-width="1.3"/>
<path d="M392.3,528.3C393.1,526.9 395.7,523.9 397.4,519.8C399.1,515.6 399.9,507.8 402.5,503.4C405.1,499.0 409.0,495.6 412.7,493.2C416.5,490.8 421.6,488.7 425.0,489.1C428.4,489.4 431.1,492.5 433.2,495.2C435.2,497.9 436.7,501.5 437.3,505.4C437.8,509.4 436.4,516.5 436.2,518.7" fill="none" stroke-width="1.3"/>
<ellipse cx="419.9" cy="515.7" rx="16.0" ry="22.9" fill="none" transform="rotate(12.0 419.9 515.7)" stroke-width="1.3"/>
<path d="M400.4,521.8C401.1,523.4 401.9,529.0 404.1,531.6C406.3,534.3 412.1,536.7 413.7,537.8" fill="none" stroke-width="1.3"/>
<polyline points="392.3,530.0 406.6,536.1 418.9,538.6" stroke-width="1.3"/>
<polygon points="392.5,407.3 397.7,408.3 397.0,410.6 391.8,409.6" stroke-width="1.3"/>
<polygon points="377.8,421.7 383.0,422.7 382.4,424.9 377.1,424.0" stroke-width="1.3"/>
<polygon points="318.5,437.0 323.7,438.6 323.1,440.9 317.9,439.3" stroke-width="1.3"/>
<polygon points="374.9,442.5 378.1,442.5 378.1,447.7 374.9,447.7" stroke-width="1.3"/>
<polygon points="439.4,431.1 441.6,431.1 441.6,436.3 439.4,436.3" stroke-width="1.3"/>
<polygon points="424.4,482.3 429.6,483.6 428.9,485.8 423.7,484.5" stroke-width="1.3"/>
<circle cx="329.9" cy="479.0" r="2.3" fill="none" stroke-width="1.3"/>
<polyline points="332.2,477.4 336.4,476.4" stroke-width="1.3"/>
<polyline points="332.2,481.0 337.1,480.6" stroke-width="1.3"/>
<ellipse cx="338.4" cy="478.0" rx="3.3" ry="3.9" fill="none" transform="rotate(0.0 338.4 478.0)" stroke-width="1.3"/>
<path d="M454.9,375.0C456.1,375.5 456.8,375.8 462.3,377.9C467.9,380.0 481.3,385.0 488.4,387.7C495.5,390.4 499.8,391.2 504.7,394.2C509.6,397.2 513.1,401.5 517.7,405.6C522.3,409.7 529.9,416.5 532.4,418.6" fill="none" stroke-width="1.3"/>
<path d="M532.4,418.0C535.4,417.5 544.0,415.7 550.3,415.4C556.5,415.0 564.4,414.7 569.8,416.0C575.3,417.4 579.9,420.9 582.9,423.5C585.9,426.1 587.2,428.7 587.8,431.7C588.3,434.6 586.4,439.8 586.1,441.4" fill="none" stroke-width="1.3"/>
<path d="M473.7,408.9C478.4,407.5 494.6,401.5 501.4,400.7C508.2,399.9 509.6,401.0 514.5,404.0C519.3,407.0 528.0,416.2 530.7,418.6" fill="none" stroke-width="1.3"/>
<path d="M424.9,468.1C436.3,464.0 473.7,450.2 493.3,443.1C512.8,435.9 529.4,429.7 542.1,425.1C554.9,420.6 565.2,417.5 569.8,416.0" fill="none" stroke-width="1.3"/>
<path d="M429.8,425.1C428.4,430.0 422.4,447.3 421.6,454.5C420.8,461.6 424.3,465.9 424.9,468.1" fill="none" stroke-width="1.3"/>
<polyline points="429.8,425.1 473.7,408.9" stroke-width="1.3"/>
<polyline points="490.0,444.0 494.9,487.0" stroke-width="1.3"/>
<polyline points="477.0,408.9 524.2,430.0" stroke-width="1.3"/>
<polyline points="488.4,389.3 532.4,419.3" stroke-width="1.3"/>
<polyline points="439.5,488.7 543.8,451.2" stroke-width="1.3"/>
<polyline points="444.4,504.0 550.3,463.6" stroke-width="1.3"/>
<polyline points="437.9,492.9 493.3,472.4 545.4,455.1" stroke-width="1.3"/>
<polyline points="439.5,488.7 444.4,504.0 449.3,513.1" stroke-width="1.3"/>
<polyline points="542.1,425.1 543.1,451.9" stroke-width="1.3"/>
<path d="M545.4,455.1C546.2,452.3 547.3,442.4 550.3,438.2C553.3,434.0 559.0,430.8 563.3,430.0C567.7,429.2 573.2,430.7 576.4,433.3C579.5,435.8 581.2,443.3 582.2,445.3" fill="none" stroke-width="1.3"/>
<ellipse cx="566.6" cy="454.1" rx="15.3" ry="22.5" fill="none" transform="rotate(10.0 566.6 454.1)" stroke-width="1.3"/>
<path d="M554.2,457.7C554.6,459.6 555.0,466.1 556.8,469.1C558.6,472.1 563.6,474.5 565.0,475.6" fill="none" stroke-width="1.3"/>
<path d="M530.7,418.0C532.4,417.5 538.1,415.0 540.5,415.4C543.0,415.8 545.1,418.4 545.4,420.3C545.7,422.2 544.0,426.0 542.1,426.8C540.2,427.6 535.9,426.6 534.0,425.1C532.1,423.7 531.3,419.2 530.7,418.0" fill="none" stroke-width="1.3"/>
<path d="M582.9,423.5C584.0,424.6 588.5,426.0 589.4,430.0C590.2,434.1 589.2,444.6 588.1,447.9C587.0,451.3 583.7,449.8 582.9,450.2" fill="none" stroke-width="1.3"/>
<path d="M428.1,402.3C428.3,401.0 427.2,396.3 429.1,394.2C431.0,392.1 435.1,390.5 439.5,390.0C444.0,389.4 451.5,389.9 455.8,390.9C460.2,392.0 463.5,394.5 465.6,396.5C467.7,398.5 467.8,401.9 468.2,403.0" fill="none" stroke-width="1.3"/>
<path d="M428.1,402.3C429.5,403.4 432.2,407.2 436.3,408.9C440.4,410.5 448.0,412.1 452.6,412.1C457.2,412.1 462.1,409.4 464.0,408.9" fill="none" stroke-width="1.3"/>
<polygon points="444.4,402.3 452.6,401.7 454.2,406.3 446.1,407.6" stroke-width="1.3"/>
<circle cx="459.1" cy="404.0" r="2.3" fill="none" stroke-width="1.3"/>
<polyline points="437.9,399.1 444.4,404.0" stroke-width="1.3"/>
<polyline points="455.8,408.9 464.0,415.4" stroke-width="1.3"/>
<polygon points="439.5,430.0 442.1,430.0 442.1,435.6 439.5,435.6" stroke-width="1.3"/>
<polygon points="498.2,431.0 505.3,432.3 504.0,435.6 497.5,434.3" stroke-width="1.3"/>
<polygon points="498.8,432.0 504.0,433.0 503.4,434.9 498.5,433.9" fill="#000" stroke-width="1.3"/>
<polygon points="499.8,448.6 506.3,449.9 505.3,452.8 499.2,451.5" stroke-width="1.3"/>
<polygon points="485.1,462.6 489.1,463.6 488.4,466.5 484.5,465.5" stroke-width="1.3"/>
<polygon points="423.9,482.1 429.1,483.5 428.5,486.4 423.3,485.1" stroke-width="1.3"/>
<polyline points="480.3,430.0 481.9,428.4 496.5,434.3" stroke-width="1.3"/>
<polyline points="462.3,402.3 707.5,176.3" stroke-width="1.49"/>
<polyline points="382.0,444.8 618.0,348.0" stroke-width="1.49"/>
<polyline points="440.5,434.7 725.8,320.5" stroke-width="1.49"/>
<polyline points="504.7,433.3 855.0,332.0" stroke-width="1.49"/>
<polyline points="508.0,451.2 729.4,404.6" stroke-width="1.49"/>
<polyline points="343.0,479.0 632.0,477.0" stroke-width="1.49"/>
<polyline points="313.5,360.4 372.3,415.5" stroke-width="1.49"/>
<path d="M821.6,27.3C819.3,27.7 814.2,28.9 807.7,29.9C801.2,30.9 789.6,31.4 782.4,33.4C775.2,35.4 770.2,37.7 764.7,41.8C759.2,45.9 753.1,52.5 749.5,58.2C745.9,63.9 744.1,71.1 743.2,75.9C742.3,80.7 743.5,83.0 744.1,87.0C744.7,91.0 747.1,93.9 746.9,99.7C746.7,105.5 746.5,114.4 743.1,121.7C739.8,129.0 732.2,137.2 726.8,143.4C721.4,149.6 714.1,155.9 710.5,158.8C706.9,161.7 706.9,161.7 705.1,160.6C703.3,159.5 701.5,156.5 699.7,152.4C697.9,148.3 694.5,141.9 694.2,136.2C693.9,130.5 696.6,123.1 697.9,118.1C699.2,113.1 701.3,108.0 702.0,106.0" fill="none" stroke-width="1.82"/>
<path d="M824.2,34.2C821.9,34.8 816.8,36.5 810.3,37.5C803.8,38.5 791.7,38.5 784.9,40.5C778.1,42.5 774.3,45.6 769.7,49.4C765.1,53.2 760.1,58.4 757.1,63.3C754.1,68.1 752.5,74.4 752.0,78.5C751.5,82.6 753.6,84.2 754.1,88.0C754.6,91.8 755.6,95.6 755.0,101.5C754.4,107.4 753.8,115.9 750.3,123.5C746.8,131.1 739.7,140.2 734.0,147.0C728.3,153.8 720.5,160.6 716.0,164.2C711.5,167.8 709.3,168.1 706.9,168.4C704.5,168.7 703.6,168.1 701.5,166.0C699.4,163.9 696.6,160.5 694.2,156.1C691.9,151.7 688.6,145.2 687.4,139.8C686.1,134.4 686.2,128.3 686.7,123.5C687.2,118.7 688.9,114.4 690.6,110.8C692.3,107.2 695.9,103.5 697.0,102.0" fill="none" stroke-width="1.82"/>
<path d="M708.3,92.8C709.0,91.4 712.4,89.4 714.3,87.9C716.2,86.5 718.4,85.8 719.7,84.1C721.1,82.4 721.3,79.0 722.5,77.6C723.6,76.2 725.4,76.0 726.8,76.0C728.3,76.0 730.2,76.2 731.1,77.6C732.1,79.0 731.4,82.1 732.2,84.1C733.0,86.1 734.5,87.6 736.0,89.5C737.6,91.5 739.9,93.5 741.5,96.1C743.0,98.6 744.5,101.8 745.3,104.7C746.0,107.6 746.3,110.9 746.0,113.4C745.7,116.0 745.1,118.2 743.6,119.9C742.1,121.7 739.3,123.2 737.1,123.7C734.9,124.3 733.3,123.5 730.6,123.2C727.9,122.9 722.6,121.8 720.8,122.1C719.0,122.4 720.7,124.3 719.7,124.8C718.7,125.4 716.1,126.0 714.9,125.4C713.6,124.7 713.1,123.9 712.1,121.0C711.1,118.1 709.5,111.3 708.9,108.0C708.3,104.7 708.1,103.5 708.3,101.5C708.6,99.5 710.5,97.5 710.5,96.1C710.5,94.6 707.7,94.2 708.3,92.8Z" fill="#fff" stroke-width="1.95"/>
<circle cx="727.1" cy="81.9" r="1.8" fill="none" stroke-width="1.95"/>
<polygon points="709.4,91.7 715.9,87.9 717.6,90.1 711.6,94.4" stroke-width="1.95"/>
<path d="M720.8,91.2C719.6,92.3 714.9,95.4 713.2,98.2C711.6,101.0 710.9,104.7 711.1,108.0C711.2,111.3 713.8,116.1 714.3,117.8" fill="none" stroke-width="1.95"/>
<path d="M727.3,91.7C725.9,92.8 720.5,95.5 718.7,98.2C716.8,100.9 716.3,104.6 716.5,108.0C716.7,111.4 719.2,117.1 719.7,118.9" fill="none" stroke-width="1.95"/>
<path d="M731.7,93.3C730.2,94.5 724.7,97.6 723.0,100.4C721.3,103.2 721.2,106.9 721.4,110.2C721.6,113.5 723.6,118.5 724.1,120.2" fill="none" stroke-width="1.95"/>
<path d="M724.1,91.2C722.7,92.3 717.7,95.4 715.9,98.2C714.2,101.0 713.6,104.7 713.8,108.0C714.0,111.3 716.5,116.6 717.0,118.3" fill="none" stroke-width="1.95"/>
<ellipse cx="736.0" cy="111.8" rx="9.8" ry="11.4" fill="#fff" transform="rotate(0.0 736.0 111.8)" stroke-width="1.95"/>
<circle cx="735.5" cy="112.3" r="4.6" fill="none" stroke-width="1.95"/>
<circle cx="735.5" cy="112.3" r="2.4" fill="none" stroke-width="1.95"/>
<circle cx="735.5" cy="112.3" r="3.5" fill="none" stroke-width="2.86"/>
<path d="M732.8,97.1C734.0,97.5 738.3,97.9 740.4,99.3C742.5,100.8 744.4,104.7 745.3,105.8" fill="none" stroke-width="1.95"/>
<path d="M698.0,101.5C698.7,99.9 699.9,97.9 701.3,97.1C702.6,96.4 705.0,96.4 706.2,97.1C707.3,97.9 708.3,99.5 708.3,101.5C708.4,103.5 707.9,107.5 706.7,109.1C705.5,110.7 702.8,111.6 701.3,111.3C699.7,110.9 698.0,108.5 697.5,106.9C696.9,105.3 697.4,103.1 698.0,101.5Z" fill="#fff" stroke-width="1.95"/>
<circle cx="702.4" cy="102.6" r="1.5" fill="none" stroke-width="1.95"/>
<polyline points="700.2,106.9 705.6,108.0" stroke-width="1.95"/>
<polyline points="691.5,113.4 701.3,115.6" stroke-width="1.95"/>
<polyline points="701.3,115.6 689.9,121.0" stroke-width="1.95"/>
<polyline points="689.9,121.0 699.1,124.3" stroke-width="1.95"/>
<polyline points="699.1,124.3 688.8,128.6" stroke-width="1.95"/>
<polygon points="704.4,65.2 712.8,70.3 712.0,74.9 703.3,70.1" fill="#fff" stroke-width="1.82"/>
<polyline points="706.3,66.3 705.5,71.1" stroke-width="1.82"/>
<polyline points="708.2,67.5 707.4,72.3" stroke-width="1.82"/>
<polyline points="710.1,68.7 709.3,73.6" stroke-width="1.82"/>
<polyline points="711.7,69.8 711.0,74.5" stroke-width="1.82"/>
<polygon points="698.1,60.8 703.6,61.7 705.7,66.3 704.6,70.6 699.8,71.1 697.6,66.3" fill="#fff" stroke-width="1.82"/>
<ellipse cx="696.5" cy="64.9" rx="2.8" ry="5.3" fill="#fff" transform="rotate(-20.0 696.5 64.9)" stroke-width="1.82"/>
<ellipse cx="695.7" cy="65.3" rx="2.2" ry="4.6" fill="none" transform="rotate(-20.0 695.7 65.3)" stroke-width="1.82"/>
<polyline points="693.3,60.8 699.2,58.9 703.6,60.8" stroke-width="1.82"/>
<polyline points="690.0,65.7 693.0,65.7" stroke-width="1.82"/>
<polyline points="727.0,58.1 727.0,75.3" stroke-width="1.82"/>
<path d="M769.3,113.6C767.3,115.2 760.1,119.7 757.5,123.5C755.0,127.3 753.6,131.9 753.9,136.2C754.2,140.4 756.6,146.1 759.3,148.8C762.1,151.6 766.3,153.4 770.2,152.8C774.1,152.2 779.5,148.9 782.9,145.2C786.2,141.5 788.9,135.3 790.1,130.7C791.2,126.2 789.8,120.2 789.7,118.1" fill="none" stroke-width="1.82"/>
<path d="M770.6,118.1C769.0,119.6 763.2,123.8 761.2,127.1C759.1,130.4 758.1,134.8 758.4,138.0C758.7,141.1 761.0,144.4 763.0,146.1C764.9,147.8 767.5,148.9 770.2,148.3C772.9,147.7 776.8,145.4 779.2,142.5C781.7,139.6 783.7,134.7 784.7,130.7C785.6,126.8 785.0,120.9 785.0,119.0" fill="none" stroke-width="1.82"/>
<path d="M772.9,117.2C771.4,118.7 765.9,122.9 763.9,126.2C761.9,129.5 760.6,133.9 760.8,137.1C760.9,140.2 764.1,143.9 764.8,145.2" fill="none" stroke-width="1.82"/>
<polygon points="768.0,113.0 772.0,111.2 779.6,112.7 779.6,116.6 774.7,118.1 768.8,117.2" fill="#fff" stroke-width="1.82"/>
<polyline points="768.0,113.0 774.7,114.5 774.7,118.1" stroke-width="1.82"/>
<polyline points="774.7,114.5 779.6,112.7" stroke-width="1.82"/>
<polyline points="784.7,119.0 789.7,118.1" stroke-width="1.82"/>
<polyline points="785.0,123.5 790.1,123.1" stroke-width="1.82"/>
<polyline points="784.7,128.0 790.1,128.0" stroke-width="1.82"/>
<polyline points="783.8,132.5 789.2,133.5" stroke-width="1.82"/>
<polyline points="782.0,137.1 786.8,138.9" stroke-width="1.82"/>
<polyline points="779.6,141.2 783.8,144.3" stroke-width="1.82"/>
<polyline points="776.5,144.3 779.2,147.9" stroke-width="1.82"/>
<polyline points="772.9,146.7 774.7,150.6" stroke-width="1.82"/>
<polyline points="770.6,153.3 770.6,173.2" stroke-width="1.56"/>
<polygon points="820.1,20.1 823.3,17.4 827.7,17.9 845.6,8.7 860.7,12.5 873.8,20.1 873.8,29.8 856.4,39.0 853.1,43.4 848.8,43.4 828.2,34.7 820.6,27.1" fill="#fff" stroke-width="1.82"/>
<polyline points="827.7,17.9 832.5,21.7 854.2,31.5 853.1,43.4" stroke-width="1.82"/>
<polyline points="854.2,31.5 873.8,20.1" stroke-width="1.82"/>
<polyline points="856.4,39.0 856.9,31.5" stroke-width="1.82"/>
<polyline points="832.5,17.9 845.6,10.8" stroke-width="1.82"/>
<polyline points="843.4,20.6 856.4,13.0" stroke-width="1.82"/>
<polyline points="846.6,22.8 860.7,14.6" stroke-width="1.82"/>
<polyline points="849.9,25.5 864.0,17.9" stroke-width="1.82"/>
<polyline points="845.6,8.7 845.6,10.8 856.4,13.0 860.7,12.5" stroke-width="1.82"/>
<polygon points="834.7,18.4 838.0,16.8 843.4,20.6 844.5,24.9 840.1,26.6 835.8,23.9" fill="#fff" stroke-width="1.82"/>
<polyline points="838.0,16.8 838.5,20.6 844.5,24.9" stroke-width="1.82"/>
<polyline points="835.8,23.9 838.5,20.6" stroke-width="1.82"/>
<polygon points="823.3,24.4 827.1,25.5 827.3,28.7 823.6,27.7" stroke-width="1.82"/>
<path d="M828.7,31.5C829.9,31.9 833.4,33.3 835.8,33.8C838.2,34.4 841.5,35.1 843.4,34.9C845.3,34.7 846.5,32.9 847.2,32.5" fill="none" stroke-width="1.82"/>
<path d="M829.3,33.6C830.5,34.1 834.3,35.8 836.9,36.3C839.4,36.9 842.7,37.4 844.5,37.1C846.3,36.8 847.2,35.1 847.7,34.7" fill="none" stroke-width="1.82"/>
<polyline points="832.5,21.7 832.5,28.2" stroke-width="1.82"/>
<polyline points="809.2,29.8 823.3,27.7 826.0,32.5 809.8,36.3" stroke-width="1.82"/>
<polyline points="809.2,29.8 826.0,32.5" stroke-width="1.82"/>
<polyline points="823.3,27.7 816.3,35.8" stroke-width="1.82"/>
<polyline points="816.3,28.4 809.8,36.3" stroke-width="1.82"/>
<polygon points="809.4,60.6 817.0,60.6 815.6,74.0 808.7,73.3" fill="#fff" stroke-width="2.08"/>
<polyline points="809.3,63.1 816.8,63.5" stroke-width="2.08"/>
<polyline points="809.1,65.7 816.5,66.2" stroke-width="2.08"/>
<polyline points="809.0,68.2 816.3,68.8" stroke-width="2.08"/>
<polyline points="808.8,70.7 815.9,71.5" stroke-width="2.08"/>
<polygon points="806.9,55.6 807.2,47.6 810.1,45.6 818.8,45.8 821.3,47.6 821.3,55.6 821.0,59.5 818.1,61.0 808.7,60.6 806.5,58.8" fill="#fff" stroke-width="2.08"/>
<ellipse cx="814.1" cy="47.6" rx="6.9" ry="2.0" fill="none" transform="rotate(0.0 814.1 47.6)" stroke-width="2.08"/>
<polyline points="806.9,55.6 821.3,55.6" stroke-width="2.08"/>
<polyline points="807.2,57.7 821.0,58.1" stroke-width="2.08"/>
<polyline points="811.9,49.4 811.6,54.8" stroke-width="2.08"/>
<polyline points="817.4,49.4 817.7,54.8" stroke-width="2.08"/>
<polyline points="800.0,57.0 806.1,57.0" stroke-width="2.08"/>
<path d="M800.3,90.7C800.9,89.3 800.8,88.6 803.7,88.3C806.5,87.9 813.3,88.0 817.3,88.7C821.4,89.5 825.5,92.2 828.1,92.6C830.7,93.1 830.5,91.4 833.0,91.2C835.4,90.9 839.8,90.6 842.7,91.2C845.7,91.8 848.3,92.9 850.5,94.6C852.8,96.3 855.1,99.6 856.4,101.4C857.7,103.2 857.5,104.4 858.4,105.3C859.3,106.3 861.2,106.2 861.8,107.3C862.3,108.4 862.3,110.1 861.8,111.7C861.2,113.3 860.2,116.0 858.4,117.1C856.5,118.1 853.3,118.0 850.5,118.0C847.8,118.0 844.5,117.9 841.8,117.1C839.0,116.2 835.7,114.8 833.9,113.2C832.2,111.5 832.2,109.4 831.0,107.3C829.9,105.2 828.6,102.0 827.1,100.5C825.6,98.9 824.0,98.4 822.2,98.0C820.4,97.6 818.5,97.1 816.4,98.0C814.3,98.9 812.0,103.0 809.5,103.4C807.1,103.8 803.3,101.6 801.7,100.5C800.1,99.3 800.0,98.2 799.8,96.6C799.5,94.9 799.6,92.1 800.3,90.7Z" fill="#fff" stroke-width="1.95"/>
<path d="M802.7,91.7C803.5,92.3 805.6,95.1 807.6,95.6C809.5,96.1 813.3,94.8 814.4,94.6" fill="none" stroke-width="1.95"/>
<path d="M803.7,90.7C805.8,90.8 812.5,90.5 816.4,91.2C820.3,91.9 825.3,94.4 827.1,95.1" fill="none" stroke-width="1.95"/>
<path d="M799.8,96.6C801.1,97.2 805.7,100.1 807.6,100.5C809.4,100.9 810.4,99.2 811.0,99.0" fill="none" stroke-width="1.95"/>
<path d="M829.1,94.6C829.9,94.4 831.8,93.8 833.9,93.6C836.1,93.5 839.3,93.1 841.8,93.6C844.2,94.1 846.6,95.1 848.6,96.6C850.5,98.0 852.0,100.6 853.5,102.4C854.9,104.2 856.7,106.5 857.4,107.3" fill="none" stroke-width="1.95"/>
<path d="M831.0,96.6C831.8,97.7 834.3,101.3 835.9,103.4C837.5,105.5 838.7,107.9 840.8,109.2C842.9,110.6 845.8,110.8 848.6,111.2C851.4,111.6 855.9,111.6 857.4,111.7" fill="none" stroke-width="1.95"/>
<path d="M844.7,95.6C845.7,96.9 849.2,101.2 850.5,103.4C851.8,105.6 852.2,107.9 852.5,108.8" fill="none" stroke-width="1.95"/>
<path d="M841.8,95.1C842.7,96.3 846.2,100.0 847.6,102.4C849.0,104.9 849.7,108.5 850.1,109.7" fill="none" stroke-width="1.95"/>
<path d="M833.9,110.2C835.2,111.0 839.0,113.7 841.8,114.6C844.5,115.5 847.7,115.6 850.5,115.6C853.4,115.5 857.5,114.5 858.8,114.3" fill="none" stroke-width="1.95"/>
<polyline points="820.3,100.0 824.2,100.3" stroke-width="1.95"/>
<path d="M944.8,76.0C944.6,73.0 942.7,63.7 943.5,58.3C944.3,52.8 946.7,46.9 949.8,43.1C953.0,39.3 958.3,36.3 962.5,35.5C966.7,34.6 972.0,35.5 975.2,38.0C978.3,40.5 981.1,46.0 981.5,50.7C981.9,55.3 980.4,61.2 977.7,65.9C975.0,70.5 969.3,75.6 965.0,78.5C960.8,81.5 954.5,82.7 952.4,83.6" fill="none" stroke-width="1.69"/>
<path d="M947.3,76.0C947.2,73.2 945.7,64.5 946.5,59.5C947.4,54.5 949.6,49.6 952.4,46.1C955.1,42.6 959.6,39.3 963.0,38.5C966.4,37.7 970.1,38.8 972.6,41.0C975.2,43.3 977.9,48.0 978.2,51.9C978.5,55.9 977.1,60.6 974.7,64.6C972.3,68.6 967.4,73.2 963.8,76.0C960.1,78.7 954.7,80.2 952.9,81.1" fill="none" stroke-width="1.69"/>
<path d="M950.3,76.0C950.3,73.5 949.1,65.2 949.8,60.8C950.6,56.4 952.6,52.4 954.9,49.4C957.2,46.4 961.2,43.4 963.8,42.6C966.4,41.7 968.8,42.6 970.6,44.3C972.4,46.1 974.5,50.0 974.7,53.2C974.8,56.4 973.6,59.9 971.6,63.3C969.6,66.7 965.5,71.0 962.5,73.5C959.5,75.9 955.1,77.3 953.6,78.0" fill="none" stroke-width="1.69"/>
<polygon points="934.6,77.3 942.2,74.7 949.8,77.3 949.8,86.1 942.7,88.7 935.1,85.6" fill="#fff" stroke-width="1.69"/>
<polyline points="934.6,77.3 942.7,79.8 942.7,88.7" stroke-width="1.69"/>
<polyline points="942.7,79.8 949.8,77.3" stroke-width="1.69"/>
<polygon points="934.6,81.6 918.2,88.7 916.9,91.7 920.7,93.2 935.9,86.1" fill="#fff" stroke-width="1.69"/>
<polyline points="922.0,88.1 923.5,91.7" stroke-width="1.69"/>
<polyline points="925.0,86.9 926.5,90.4" stroke-width="1.69"/>
<polyline points="928.1,85.6 929.6,89.2" stroke-width="1.69"/>
<polyline points="931.1,84.3 932.6,87.9" stroke-width="1.69"/>
<polyline points="952.4,83.1 979.0,84.9" stroke-width="1.69"/>
<path d="M798.8,140.4C797.4,141.8 792.2,145.7 790.1,149.1C788.1,152.5 786.5,156.8 786.5,160.7C786.5,164.5 787.8,169.1 790.1,172.2C792.4,175.4 798.6,178.3 800.3,179.5" fill="none" stroke-width="1.95"/>
<path d="M801.7,147.6C800.5,148.8 796.0,152.0 794.5,154.9C792.9,157.8 792.1,161.9 792.3,165.0C792.5,168.1 794.4,171.5 795.9,173.7C797.5,175.8 800.7,177.3 801.7,178.0" fill="none" stroke-width="1.95"/>
<path d="M803.2,153.4C802.3,154.6 798.9,158.0 798.1,160.7C797.2,163.3 797.5,166.9 798.1,169.3C798.7,171.7 801.1,174.2 801.7,175.1" fill="none" stroke-width="1.95"/>
<path d="M796.6,143.3 L793.0,147.6" fill="none" stroke-width="1.95"/>
<polygon points="797.4,124.5 801.7,121.6 818.4,125.2 818.8,131.7 819.8,136.8 824.9,143.3 827.5,148.4 827.8,152.0 825.2,156.3 820.5,158.5 816.2,159.2 811.8,157.5 808.2,154.1 803.9,147.3 801.4,138.9 800.0,131.7" fill="#fff" stroke-width="1.95"/>
<polyline points="801.7,121.6 804.6,125.9 811.1,127.4 818.4,125.2" stroke-width="1.95"/>
<path d="M804.6,125.9C805.0,128.1 805.7,134.8 806.8,138.9C807.9,143.0 810.4,148.6 811.1,150.5" fill="none" stroke-width="1.95"/>
<polyline points="811.1,127.4 811.1,144.7" stroke-width="1.95"/>
<polyline points="809.7,136.0 810.7,147.6" stroke-width="2.86"/>
<ellipse cx="822.0" cy="152.3" rx="4.3" ry="1.7" fill="none" transform="rotate(-15.0 822.0 152.3)" stroke-width="1.95"/>
<polygon points="832.1,144.0 836.4,140.4 848.0,138.9 857.4,141.8 857.4,146.2 855.3,157.8 843.7,154.9 842.2,159.2 835.0,159.2 835.0,149.1" fill="#fff" stroke-width="1.95"/>
<polyline points="832.1,144.0 840.8,144.7 857.4,146.2" stroke-width="1.95"/>
<polyline points="840.8,144.7 839.3,156.3" stroke-width="1.95"/>
<polyline points="836.4,140.4 840.8,144.7" stroke-width="1.95"/>
<ellipse cx="850.9" cy="143.6" rx="2.3" ry="1.0" fill="#000" transform="rotate(10.0 850.9 143.6)" stroke-width="1.95"/>
<path d="M823.4,163.5C823.9,161.7 824.9,161.6 827.8,161.4C830.7,161.1 838.1,161.3 840.8,162.1C843.4,162.9 843.4,164.8 843.7,166.4C843.9,168.1 844.2,170.8 842.2,172.2C840.3,173.7 835.0,175.1 832.1,175.1C829.2,175.1 826.3,174.2 824.9,172.2C823.4,170.3 822.9,165.4 823.4,163.5Z" fill="#fff" stroke-width="1.95"/>
<circle cx="826.3" cy="167.9" r="2.5" fill="none" stroke-width="1.95"/>
<circle cx="826.3" cy="167.9" r="1.2" fill="none" stroke-width="1.95"/>
<polyline points="801.7,159.2 816.2,165.7" stroke-width="1.95"/>
<polyline points="804.6,165.0 806.0,175.1" stroke-width="1.95"/>
<polyline points="808.9,163.5 810.4,173.7" stroke-width="1.95"/>
<polygon points="808.2,175.8 814.0,174.4 816.2,178.0 815.5,183.8 808.9,182.4" fill="#fff" stroke-width="1.95"/>
<polyline points="811.1,175.1 811.8,183.1" stroke-width="1.95"/>
<polyline points="800.3,180.9 808.2,179.5" stroke-width="1.95"/>
<path d="M806.0,185.3C807.7,185.9 813.3,188.1 816.2,188.9C819.1,189.7 822.2,189.8 823.4,190.0" fill="none" stroke-width="1.95"/>
<polygon points="842.6,158.1 847.1,155.4 883.3,177.1 885.1,182.5 879.6,186.1 874.2,185.2 841.7,167.2" fill="#fff" stroke-width="1.95"/>
<polyline points="843.5,160.8 881.4,181.6" stroke-width="1.95"/>
<polygon points="841.7,167.2 874.2,185.2 863.4,188.9 861.6,202.4 847.1,196.1 839.9,197.9 841.7,191.6" fill="#fff" stroke-width="1.95"/>
<polyline points="841.7,172.6 832.7,174.4" stroke-width="1.95"/>
<polyline points="836.3,175.3 838.1,178.9 841.7,179.8" stroke-width="1.95"/>
<polyline points="820.0,188.9 824.5,192.5 839.0,197.4" stroke-width="1.95"/>
<polygon points="876.9,172.6 897.7,164.5 912.2,171.7 911.3,182.5 906.8,188.9 892.3,187.1 885.1,182.5 883.3,177.1" fill="#fff" stroke-width="1.95"/>
<polyline points="883.3,177.1 892.3,176.2 912.2,171.7" stroke-width="1.95"/>
<polyline points="892.3,176.2 892.3,187.1" stroke-width="1.95"/>
<polyline points="892.3,168.1 901.3,171.7 895.9,173.9" stroke-width="1.95"/>
<polyline points="890.5,169.0 899.5,165.4" stroke-width="1.95"/>
<path d="M879.6,186.1C882.7,183.3 890.8,186.1 895.9,187.1C901.0,188.0 906.1,189.0 910.4,191.6C914.6,194.1 918.9,198.8 921.2,202.4C923.6,206.0 924.3,209.3 924.5,213.3C924.6,217.2 923.9,222.3 922.1,225.9C920.4,229.5 917.1,233.1 914.0,234.9C910.8,236.8 906.8,236.8 903.1,236.8C899.5,236.8 895.6,236.5 892.3,234.9C889.0,233.4 885.5,230.4 883.3,227.7C881.0,225.0 879.6,222.6 878.7,218.7C877.8,214.8 877.7,209.6 877.8,204.2C878.0,198.8 876.6,189.0 879.6,186.1Z" fill="#fff" stroke-width="1.95"/>
<ellipse cx="906.2" cy="216.0" rx="17.7" ry="20.4" fill="#fff" transform="rotate(0.0 906.2 216.0)" stroke-width="1.95"/>
<ellipse cx="904.9" cy="217.8" rx="9.4" ry="11.2" fill="none" transform="rotate(0.0 904.9 217.8)" stroke-width="1.95"/>
<ellipse cx="905.3" cy="216.9" rx="11.6" ry="13.7" fill="none" transform="rotate(0.0 905.3 216.9)" stroke-width="2.86"/>
<ellipse cx="904.0" cy="218.3" rx="4.0" ry="6.3" fill="none" transform="rotate(15.0 904.0 218.3)" stroke-width="1.95"/>
<polyline points="901.3,214.2 907.1,222.3" stroke-width="1.95"/>
<polyline points="902.2,221.4 906.4,215.1" stroke-width="1.95"/>
<path d="M882.4,188.9C881.6,191.4 878.3,198.6 877.8,204.2C877.4,209.8 877.8,217.4 879.6,222.3C881.4,227.2 887.2,231.6 888.7,233.5" fill="none" stroke-width="1.95"/>
<path d="M886.0,188.9C885.3,191.4 882.3,198.8 881.8,204.2C881.4,209.6 881.7,216.6 883.3,221.4C884.9,226.1 890.0,230.9 891.4,232.8" fill="none" stroke-width="1.95"/>
<polyline points="883.3,192.5 886.0,193.4 885.1,196.1" stroke-width="1.95"/>
<path d="M863.4,188.0C865.1,186.6 867.9,185.5 870.6,185.2C873.3,184.9 878.4,184.2 879.6,186.1C880.9,188.1 878.8,193.1 878.2,197.0C877.6,200.9 877.9,207.5 876.0,209.6C874.2,211.8 869.6,210.8 867.0,209.6C864.4,208.4 861.8,205.1 860.7,202.4C859.5,199.7 859.7,195.8 860.1,193.4C860.6,191.0 861.6,189.3 863.4,188.0Z" fill="#fff" stroke-width="1.95"/>
<circle cx="866.6" cy="194.3" r="2.2" fill="none" stroke-width="1.95"/>
<circle cx="866.6" cy="194.3" r="0.9" fill="none" stroke-width="1.95"/>
<circle cx="875.1" cy="182.5" r="1.6" fill="#000" stroke-width="1.95"/>
<polygon points="860.7,201.5 869.7,200.6 870.6,206.0 861.6,206.9" stroke-width="1.95"/>
<polyline points="861.6,203.7 870.2,203.0" stroke-width="1.95"/>
<polyline points="864.3,207.8 875.1,206.9" stroke-width="1.95"/>
<polyline points="865.2,210.5 876.0,212.4" stroke-width="1.95"/>
<path d="M845.3,193.4C845.9,194.9 847.6,199.7 848.9,202.4C850.3,205.1 851.0,207.8 853.4,209.6C855.8,211.4 860.1,212.8 863.4,213.3C866.7,213.7 871.7,212.5 873.3,212.4" fill="none" stroke-width="2.86"/>
<path d="M848.0,192.5C848.6,194.0 850.3,199.0 851.6,201.5C853.0,204.0 854.0,206.0 856.1,207.5C858.3,209.0 862.9,210.0 864.3,210.5" fill="none" stroke-width="1.95"/>
<polygon points="862.5,221.4 867.0,219.6 875.1,224.1 874.2,229.5 869.7,230.4 863.4,226.8" fill="#fff" stroke-width="1.95"/>
<polyline points="867.0,219.6 867.4,225.9 874.2,229.5" stroke-width="1.95"/>
<polyline points="867.9,213.3 868.4,221.4" stroke-width="1.95"/>
<polyline points="871.5,213.3 872.4,223.2" stroke-width="1.95"/>
<path d="M858.9,220.5C858.1,222.3 856.0,226.4 854.3,231.3C852.7,236.2 849.8,246.8 848.9,249.9" fill="none" stroke-width="1.95"/>
<path d="M863.4,225.9C862.3,227.7 858.7,232.7 857.1,236.8C855.4,240.8 854.0,247.7 853.4,249.9" fill="none" stroke-width="1.95"/>
<path d="M863.5,160.6C866.5,158.5 873.2,152.2 881.3,148.0C889.3,143.8 904.1,137.6 911.6,135.3C919.2,133.0 922.1,132.8 926.8,134.1C931.6,135.3 937.8,141.4 940.0,142.9" fill="none" stroke-width="1.95"/>
<path d="M867.3,164.4C870.1,162.3 876.4,156.0 883.8,151.8C891.2,147.6 904.9,141.4 911.6,139.1C918.4,136.8 919.6,136.4 924.3,137.8C929.0,139.3 937.4,146.3 940.0,148.0" fill="none" stroke-width="1.95"/>
<path d="M865.6,162.7C868.4,160.5 874.9,154.2 882.5,150.0C890.2,145.8 904.5,139.7 911.6,137.3C918.8,135.0 920.8,134.5 925.6,135.8C930.3,137.2 937.6,143.8 940.0,145.4" fill="none" stroke-width="1.95"/>
<polyline points="880.0,148.0 882.5,151.8" stroke-width="1.95"/>
<polyline points="885.1,145.4 886.3,150.0" stroke-width="1.95"/>
<polyline points="890.1,143.4 888.9,148.0" stroke-width="1.95"/>
<polyline points="895.2,141.6 897.7,145.4" stroke-width="1.95"/>
<path d="M898.7,141.1C901.5,140.2 910.3,136.7 915.2,135.5C920.0,134.4 923.6,133.4 927.8,134.3C932.1,135.1 936.7,138.9 940.5,140.6C944.3,142.3 946.4,144.4 950.6,144.4C954.8,144.4 959.9,142.1 965.8,140.6C971.7,139.1 979.7,137.2 986.0,135.5C992.4,133.9 1000.8,131.3 1003.7,130.5" fill="none" stroke-width="1.82"/>
<path d="M898.7,147.7C901.9,146.7 912.7,143.1 917.7,141.9C922.8,140.7 925.1,139.6 929.1,140.6C933.1,141.7 937.7,146.5 941.8,148.2C945.8,149.9 948.7,150.9 953.1,150.7C957.6,150.5 962.4,148.6 968.3,146.9C974.2,145.2 982.7,142.3 988.6,140.6C994.5,138.9 1001.2,137.4 1003.7,136.8" fill="none" stroke-width="1.82"/>
<path d="M902.5,143.6C904.8,142.8 912.1,139.8 916.4,138.8C920.7,137.8 924.2,136.6 928.3,137.6C932.4,138.5 937.1,142.7 941.0,144.4C944.9,146.1 947.5,147.8 951.9,147.7C956.2,147.6 961.2,145.5 967.1,143.9C973.0,142.3 981.2,139.8 987.3,138.1C993.4,136.3 1001.0,134.3 1003.7,133.5" fill="none" stroke-width="1.82"/>
<polyline points="979.7,136.8 982.2,144.4" stroke-width="1.82"/>
<polyline points="986.0,135.5 984.8,141.9" stroke-width="1.82"/>
<polyline points="988.6,135.0 994.1,139.3" stroke-width="1.82"/>
<polyline points="994.1,133.5 996.2,139.3" stroke-width="1.82"/>
<polygon points="1003.2,124.2 1011.3,121.6 1017.7,117.8 1032.8,122.9 1035.4,135.5 1020.2,140.6 1017.7,141.9 1003.7,135.5" fill="#fff" stroke-width="1.82"/>
<polyline points="1003.2,124.2 1018.9,129.2 1020.2,140.6" stroke-width="1.82"/>
<polyline points="1018.9,129.2 1032.8,122.9" stroke-width="1.82"/>
<polyline points="1011.3,121.6 1012.6,126.7" stroke-width="1.82"/>
<polyline points="1022.7,128.0 1024.0,139.3" stroke-width="1.82"/>
<polyline points="1026.5,126.2 1028.0,138.1" stroke-width="1.82"/>
<polyline points="1030.3,124.7 1031.8,136.6" stroke-width="1.82"/>
<polygon points="1006.3,128.0 1016.4,131.0 1016.4,136.8 1006.8,133.5" stroke-width="1.82"/>
<path d="M1015.4,164.8C1014.2,165.6 1009.7,167.7 1007.9,169.9C1006.2,172.1 1005.3,175.4 1005.0,177.9C1004.6,180.4 1005.1,183.0 1005.9,184.9C1006.8,186.7 1009.3,188.3 1009.9,189.0" fill="none" stroke-width="1.95"/>
<path d="M1017.4,165.0C1017.8,164.9 1018.6,164.2 1019.9,164.5C1021.1,164.7 1024.0,166.1 1024.9,166.4" fill="none" stroke-width="1.95"/>
<polyline points="1005.7,183.9 1012.4,184.9" stroke-width="1.95"/>
<polyline points="1005.1,181.4 1011.7,182.4" stroke-width="1.95"/>
<polyline points="1005.1,178.9 1011.5,179.7" stroke-width="1.95"/>
<polyline points="1005.5,176.4 1011.7,177.1" stroke-width="1.95"/>
<polyline points="1006.3,173.9 1012.1,174.7" stroke-width="1.95"/>
<polyline points="1007.5,171.7 1012.9,172.7" stroke-width="1.95"/>
<polyline points="1009.1,169.7 1014.1,170.9" stroke-width="1.95"/>
<polyline points="1010.9,167.9 1015.4,169.4" stroke-width="1.95"/>
<polyline points="1013.1,166.4 1017.1,168.1" stroke-width="1.95"/>
<polygon points="1027.8,184.9 1031.8,181.9 1035.0,183.9 1028.8,188.0 1024.9,189.0" fill="#fff" stroke-width="1.95"/>
<polyline points="1026.8,186.6 1032.8,183.4" stroke-width="1.95"/>
<ellipse cx="1021.4" cy="177.4" rx="8.8" ry="10.7" fill="#fff" transform="rotate(22.0 1021.4 177.4)" stroke-width="1.95"/>
<ellipse cx="1021.5" cy="177.9" rx="6.4" ry="8.6" fill="none" transform="rotate(22.0 1021.5 177.9)" stroke-width="1.95"/>
<ellipse cx="1021.5" cy="177.7" rx="7.6" ry="9.7" fill="none" transform="rotate(22.0 1021.5 177.7)" stroke-width="2.86"/>
<path d="M1022.4,172.4C1022.0,173.7 1020.5,177.7 1020.4,179.9C1020.3,182.0 1021.5,184.4 1021.7,185.3" fill="none" stroke-width="1.95"/>
<path d="M1012.4,187.8C1013.1,186.4 1015.3,186.1 1016.9,186.3C1018.5,186.6 1020.9,187.9 1021.9,189.3C1022.8,190.7 1022.9,192.9 1022.6,194.8C1022.2,196.7 1021.2,199.7 1019.9,200.8C1018.6,201.8 1016.1,202.3 1014.9,201.3C1013.7,200.3 1013.3,197.0 1012.9,194.8C1012.5,192.6 1011.7,189.2 1012.4,187.8Z" fill="#fff" stroke-width="1.95"/>
<polyline points="1012.9,192.3 1022.1,193.3" stroke-width="1.95"/>
<polyline points="1013.4,194.8 1021.9,195.8" stroke-width="1.95"/>
<circle cx="1016.4" cy="189.8" r="1.4" fill="none" stroke-width="1.95"/>
<circle cx="1018.4" cy="198.8" r="1.0" fill="none" stroke-width="1.95"/>
<polyline points="1031.3,173.9 1048.7,174.7" stroke-width="1.95"/>
<path d="M934.5,218.1C933.3,218.8 929.3,219.9 926.9,221.9C924.6,224.0 921.9,227.5 920.4,230.6C919.0,233.7 918.3,237.3 918.3,240.4C918.3,243.4 919.2,246.7 920.4,249.0C921.7,251.4 924.0,253.2 925.8,254.5C927.7,255.8 930.4,256.5 931.3,256.9" fill="none" stroke-width="1.95"/>
<polyline points="934.5,218.1 943.2,217.6 946.5,220.8 945.4,224.1 938.3,223.6 934.5,218.1" stroke-width="1.95"/>
<path d="M938.3,223.6C937.1,224.4 933.3,226.2 931.3,228.4C929.2,230.7 926.8,234.0 925.8,237.1C924.9,240.2 924.9,244.2 925.3,246.9C925.7,249.6 926.7,251.5 928.0,253.4C929.4,255.2 932.5,257.2 933.4,257.9" fill="none" stroke-width="1.95"/>
<path d="M945.4,224.1C943.9,224.6 939.2,225.5 936.7,227.4C934.2,229.2 931.5,232.1 930.2,234.9C928.8,237.8 928.6,241.8 928.6,244.7C928.6,247.6 929.0,250.5 930.2,252.3C931.4,254.1 934.9,255.2 935.8,255.8" fill="none" stroke-width="1.95"/>
<polyline points="931.3,256.9 933.4,257.9 935.8,255.8" stroke-width="1.95"/>
<circle cx="924.8" cy="230.6" r="1.8" fill="none" stroke-width="1.95"/>
<ellipse cx="938.6" cy="220.5" rx="1.6" ry="0.9" fill="none" transform="rotate(0.0 938.6 220.5)" stroke-width="1.95"/>
<path d="M970.4,231.1C967.5,231.6 957.8,231.6 953.0,234.0C948.1,236.3 944.3,240.9 941.6,245.4C938.9,249.8 937.1,256.4 936.8,260.5C936.5,264.7 939.2,268.8 939.7,270.4" fill="none" stroke-width="1.95"/>
<path d="M968.5,234.0C966.1,234.6 957.8,235.6 953.9,237.8C950.0,240.0 947.4,243.5 945.4,247.3C943.3,251.1 941.9,256.8 941.6,260.5C941.2,264.3 943.1,268.1 943.5,269.6" fill="none" stroke-width="1.95"/>
<path d="M950.1,241.6C949.3,243.5 946.0,248.8 945.4,253.0C944.7,257.1 945.0,262.1 946.3,266.2C947.6,270.4 951.8,276.0 953.0,278.0" fill="none" stroke-width="1.95"/>
<polyline points="937.4,257.7 941.6,258.3" stroke-width="1.95"/>
<polyline points="937.2,254.5 941.6,255.2" stroke-width="1.95"/>
<polyline points="937.8,251.1 942.1,252.2" stroke-width="1.95"/>
<polyline points="938.9,247.6 943.1,249.2" stroke-width="1.95"/>
<polyline points="940.6,244.4 944.6,246.5" stroke-width="1.95"/>
<polyline points="942.7,241.6 946.5,243.8" stroke-width="1.95"/>
<polyline points="945.4,238.7 948.8,241.6" stroke-width="1.95"/>
<polyline points="948.4,236.3 951.4,239.3" stroke-width="1.95"/>
<polyline points="952.0,234.5 954.5,237.8" stroke-width="1.95"/>
<polyline points="955.8,233.2 957.7,236.6" stroke-width="1.95"/>
<polyline points="960.2,232.1 961.3,235.5" stroke-width="1.95"/>
<polyline points="964.7,231.3 965.1,234.7" stroke-width="1.95"/>
<polygon points="939.7,269.1 950.1,271.9 955.8,286.2 977.6,280.5 979.5,277.6 980.5,281.4 955.8,289.4 941.6,276.1" fill="#fff" stroke-width="1.95"/>
<polygon points="942.5,271.9 949.5,273.4 950.3,277.2 943.5,275.7" stroke-width="1.95"/>
<ellipse cx="971.0" cy="256.7" rx="19.7" ry="22.8" fill="#fff" transform="rotate(-15.0 971.0 256.7)" stroke-width="1.95"/>
<ellipse cx="971.2" cy="256.9" rx="15.9" ry="18.6" fill="none" transform="rotate(-15.0 971.2 256.9)" stroke-width="1.95"/>
<ellipse cx="971.5" cy="257.1" rx="14.4" ry="16.9" fill="none" transform="rotate(-15.0 971.5 257.1)" stroke-width="1.95"/>
<path d="M979.5,241.6C978.9,243.1 976.5,247.9 976.1,251.1C975.7,254.2 977.0,259.0 977.2,260.5" fill="none" stroke-width="1.95"/>
<polyline points="975.7,243.5 979.1,243.8" stroke-width="1.95"/>
<polyline points="975.0,246.9 978.4,247.3" stroke-width="1.95"/>
<polyline points="974.6,250.3 978.0,250.7" stroke-width="1.95"/>
<polyline points="975.0,253.7 978.4,254.1" stroke-width="1.95"/>
<polyline points="975.3,257.1 978.8,257.5" stroke-width="1.95"/>
<polyline points="966.2,270.0 972.9,266.6 974.2,270.0 969.1,271.5" stroke-width="1.95"/>
<path d="M1004.2,260.5C1002.0,262.4 994.2,267.8 990.9,271.9C987.6,276.0 984.7,281.1 984.3,285.2C983.8,289.3 986.0,293.4 988.1,296.6C990.1,299.8 995.2,303.2 996.6,304.6" fill="none" stroke-width="1.95"/>
<path d="M1004.2,255.8C1004.4,256.5 1004.8,259.5 1005.7,260.2C1006.7,260.8 1007.8,260.2 1009.9,259.8C1012.0,259.4 1017.0,258.0 1018.4,257.7" fill="none" stroke-width="1.95"/>
<polygon points="990.9,306.1 998.5,304.2 1008.0,311.8 1025.1,308.0 1027.0,304.2 1025.4,312.2 1008.0,316.9 992.8,309.9" fill="#fff" stroke-width="1.95"/>
<polyline points="1008.0,311.8 1008.0,316.9" stroke-width="1.95"/>
<ellipse cx="1016.5" cy="282.4" rx="20.9" ry="23.9" fill="#fff" transform="rotate(-12.0 1016.5 282.4)" stroke-width="1.95"/>
<ellipse cx="1016.7" cy="282.6" rx="18.0" ry="20.9" fill="none" transform="rotate(-12.0 1016.7 282.6)" stroke-width="1.95"/>
<ellipse cx="1017.1" cy="282.7" rx="16.7" ry="19.4" fill="none" transform="rotate(-12.0 1017.1 282.7)" stroke-width="1.95"/>
<path d="M1023.2,268.1C1022.4,270.0 1019.4,275.9 1018.4,279.5C1017.5,283.2 1017.5,286.8 1017.5,290.0C1017.5,293.1 1018.3,297.1 1018.4,298.5" fill="none" stroke-width="1.95"/>
<polyline points="1017.5,290.0 1027.0,290.9 1021.3,298.5" stroke-width="1.95"/>
<polyline points="936.2,197.6 936.2,217.8" stroke-width="1.95"/>
<polyline points="970.3,206.4 970.3,231.8" stroke-width="1.95"/>
<polyline points="1017.4,231.8 1017.4,254.5" stroke-width="1.95"/>
<path d="M849.4,245.7C848.5,247.8 845.7,255.3 843.7,258.7C841.6,262.1 839.3,263.0 837.1,265.9C835.0,268.8 831.7,272.9 830.6,276.0C829.5,279.2 829.8,282.3 830.6,284.7C831.5,287.1 833.5,289.4 835.7,290.5C837.9,291.6 841.1,292.0 843.7,291.2C846.2,290.5 849.7,287.0 850.9,286.2" fill="none" stroke-width="1.82"/>
<path d="M853.1,247.1C852.1,249.3 849.3,256.6 847.3,260.1C845.2,263.6 842.9,265.2 840.8,268.1C838.7,271.0 835.6,274.8 834.7,277.5C833.7,280.1 834.4,282.4 835.0,284.0C835.5,285.6 836.4,286.3 837.9,286.9C839.3,287.4 841.7,287.8 843.7,287.3C845.6,286.8 848.5,284.6 849.4,284.0" fill="none" stroke-width="1.82"/>
<path d="M849.4,281.1C850.6,278.6 856.1,273.4 858.1,270.3C860.2,267.1 860.3,263.9 861.7,262.3C863.2,260.7 865.0,260.4 866.8,260.8C868.6,261.3 872.0,263.6 872.6,265.2C873.2,266.8 872.1,268.0 870.4,270.3C868.7,272.5 865.0,276.6 862.5,278.9C859.9,281.2 857.2,282.9 855.2,284.0C853.3,285.1 851.9,285.9 850.9,285.4C849.9,285.0 848.2,283.6 849.4,281.1Z" fill="#fff" stroke-width="1.82"/>
<polyline points="861.7,262.3 863.2,259.8 865.4,262.3 867.5,259.5 869.0,263.0 872.0,263.7" stroke-width="1.82"/>
<polyline points="858.8,270.3 869.7,271.7" stroke-width="1.82"/>
<polyline points="855.2,276.0 863.9,278.2" stroke-width="1.82"/>
<polyline points="852.3,281.1 855.9,284.0" stroke-width="1.82"/>
<polygon points="850.9,281.8 853.8,279.7 855.9,282.5 853.1,284.7" fill="#000" stroke-width="1.82"/>
<ellipse cx="876.6" cy="253.2" rx="4.6" ry="2.0" fill="none" transform="rotate(-48.0 876.6 253.2)" stroke-width="1.82"/>
<polyline points="874.0,252.6 878.4,255.8" stroke-width="1.82"/>
<polyline points="879.8,258.2 887.1,258.5" stroke-width="1.82"/>
<polygon points="621.2,327.6 637.6,327.6 637.6,345.2 636.4,349.9 622.3,349.9 621.2,345.2" fill="#fff" stroke-width="1.82"/>
<polyline points="621.2,338.2 637.6,338.2" stroke-width="1.82"/>
<polyline points="621.2,340.5 637.6,340.5" stroke-width="1.82"/>
<polyline points="621.2,343.3 637.6,343.3" stroke-width="1.82"/>
<polyline points="625.9,345.7 625.9,349.9" stroke-width="1.82"/>
<polyline points="632.9,345.7 632.9,349.9" stroke-width="1.82"/>
<ellipse cx="629.4" cy="326.4" rx="13.6" ry="4.7" fill="#fff" transform="rotate(0.0 629.4 326.4)" stroke-width="1.82"/>
<ellipse cx="629.4" cy="319.4" rx="12.2" ry="6.1" fill="#fff" transform="rotate(0.0 629.4 319.4)" stroke-width="1.82"/>
<ellipse cx="629.4" cy="313.5" rx="11.8" ry="5.9" fill="#fff" transform="rotate(0.0 629.4 313.5)" stroke-width="1.82"/>
<ellipse cx="629.4" cy="313.0" rx="8.9" ry="4.0" fill="none" transform="rotate(0.0 629.4 313.0)" stroke-width="1.82"/>
<polyline points="623.5,314.2 635.3,311.8" stroke-width="1.82"/>
<polygon points="645.8,323.6 652.9,323.6 652.9,319.8 660.6,326.4 652.9,333.0 652.9,329.2 645.8,329.2" fill="#000" stroke-width="1.82"/>
<polygon points="730.5,300.6 730.5,328.8 741.0,332.3 741.0,327.6 752.8,327.6 752.8,331.1 762.2,328.8 762.2,319.4 757.5,318.2 757.5,300.6" fill="#fff" stroke-width="1.82"/>
<path d="M730.5,307.6C732.7,308.1 739.4,310.4 743.9,310.4C748.4,310.4 755.2,308.1 757.5,307.6" fill="none" stroke-width="1.82"/>
<ellipse cx="743.9" cy="300.1" rx="13.6" ry="5.2" fill="#fff" transform="rotate(0.0 743.9 300.1)" stroke-width="1.82"/>
<ellipse cx="743.9" cy="292.3" rx="15.7" ry="8.9" fill="#fff" transform="rotate(0.0 743.9 292.3)" stroke-width="1.82"/>
<ellipse cx="743.9" cy="290.7" rx="12.2" ry="6.3" fill="none" transform="rotate(0.0 743.9 290.7)" stroke-width="1.82"/>
<polyline points="735.2,292.3 752.8,288.8" stroke-width="1.82"/>
<polyline points="736.3,290.0 751.6,293.0" stroke-width="1.82"/>
<ellipse cx="743.9" cy="291.2" rx="14.1" ry="7.5" fill="none" transform="rotate(0.0 743.9 291.2)" stroke-width="2.86"/>
<polygon points="762.9,306.4 771.6,306.4 771.6,302.9 779.8,309.5 771.6,316.1 771.6,312.8 762.9,312.8" fill="#000" stroke-width="1.82"/>
<path d="M735.0,392.2C735.3,390.3 736.0,388.2 738.1,386.8C740.3,385.3 745.1,384.0 748.1,383.6C751.0,383.2 754.3,383.8 755.8,384.5C757.3,385.2 757.7,386.8 757.1,387.7C756.6,388.5 754.9,388.9 752.6,389.5C750.3,390.0 745.8,390.1 743.6,390.8C741.3,391.6 739.6,392.9 739.0,394.0C738.4,395.1 740.4,396.9 739.9,397.6C739.5,398.3 737.2,399.0 736.3,398.1C735.5,397.2 734.7,394.1 735.0,392.2Z" fill="#fff" stroke-width="1.95"/>
<path d="M739.0,390.4C740.2,389.8 743.7,387.4 746.3,386.8C748.8,386.1 753.1,386.4 754.4,386.3" fill="none" stroke-width="1.95"/>
<path d="M736.3,413.0C735.9,411.5 736.0,407.9 737.2,405.7C738.4,403.6 741.0,401.5 743.6,400.3C746.1,399.1 750.2,397.8 752.6,398.5C755.0,399.3 757.9,403.1 758.0,404.8C758.2,406.6 755.8,408.1 753.5,408.9C751.2,409.7 746.7,408.8 744.5,409.8C742.2,410.8 741.3,414.3 739.9,414.8C738.6,415.3 736.8,414.5 736.3,413.0Z" fill="#fff" stroke-width="1.95"/>
<path d="M739.0,411.2C739.8,410.1 741.3,406.3 743.6,404.8C745.8,403.3 751.1,402.6 752.6,402.1" fill="none" stroke-width="1.95"/>
<polyline points="739.9,397.6 743.6,400.3" stroke-width="1.95"/>
<polyline points="748.1,391.3 753.5,398.5" stroke-width="1.95"/>
<path d="M755.3,384.9C756.1,382.8 758.6,380.7 760.7,379.5C762.9,378.4 765.9,378.0 768.0,378.2C770.1,378.3 772.0,379.4 773.4,380.4C774.8,381.4 774.9,382.7 776.1,384.0C777.3,385.4 778.1,386.9 780.6,388.6C783.2,390.2 788.3,392.5 791.5,394.0C794.6,395.5 797.9,395.8 799.6,397.6C801.4,399.4 801.9,402.1 801.9,404.8C801.9,407.5 801.1,411.8 799.6,413.9C798.2,415.9 795.3,416.7 793.3,417.0C791.3,417.3 790.6,416.5 787.9,415.7C785.2,414.9 780.3,413.2 777.0,412.1C773.7,410.9 770.8,409.2 768.0,408.6C765.1,408.1 761.8,409.7 759.8,408.6C757.9,407.5 756.9,404.9 756.2,402.1C755.5,399.4 755.9,395.0 755.8,392.2C755.6,389.3 754.5,387.1 755.3,384.9Z" fill="#fff" stroke-width="1.95"/>
<path d="M760.7,379.5C760.1,381.0 757.4,384.8 756.7,388.6C755.9,392.3 755.9,398.8 756.4,402.1C756.9,405.4 759.3,407.4 759.8,408.5" fill="none" stroke-width="1.95"/>
<path d="M768.0,380.4C766.8,381.9 762.5,385.8 761.2,389.5C759.9,393.1 759.9,398.8 760.3,402.1C760.7,405.5 763.1,408.3 763.6,409.5" fill="none" stroke-width="1.95"/>
<path d="M773.4,381.3C772.5,382.5 769.2,385.8 768.0,388.6C766.8,391.3 766.5,396.1 766.2,397.6" fill="none" stroke-width="1.95"/>
<polyline points="762.5,391.3 766.2,390.4 768.0,398.5 773.4,400.3" stroke-width="1.95"/>
<polyline points="765.3,402.1 773.4,404.8" stroke-width="1.95"/>
<path d="M783.3,392.2C782.6,393.5 779.6,397.3 779.0,400.3C778.4,403.4 779.5,408.8 779.5,410.4" fill="none" stroke-width="1.95"/>
<path d="M787.9,394.4C787.3,395.7 784.8,399.0 784.2,402.1C783.7,405.2 784.4,411.3 784.4,413.2" fill="none" stroke-width="1.95"/>
<polyline points="780.6,395.3 785.2,397.2" stroke-width="1.95"/>
<polyline points="779.7,398.1 784.4,399.9" stroke-width="1.95"/>
<polyline points="779.3,401.2 784.1,402.6" stroke-width="1.95"/>
<polyline points="779.3,404.4 784.1,405.7" stroke-width="1.95"/>
<polyline points="779.3,407.5 784.2,409.2" stroke-width="1.95"/>
<ellipse cx="794.6" cy="406.2" rx="6.8" ry="10.1" fill="#fff" transform="rotate(-8.0 794.6 406.2)" stroke-width="1.95"/>
<ellipse cx="794.6" cy="406.2" rx="5.0" ry="8.3" fill="none" transform="rotate(-8.0 794.6 406.2)" stroke-width="1.95"/>
<ellipse cx="794.6" cy="406.2" rx="5.9" ry="9.2" fill="none" transform="rotate(-8.0 794.6 406.2)" stroke-width="2.86"/>
<polygon points="792.4,401.4 795.6,401.0 796.0,411.6 792.8,412.1" stroke-width="1.95"/>
<polygon points="763.5,413.4 769.8,413.4 769.8,417.5 773.6,417.5 766.2,425.3 758.5,417.5 763.5,417.5" fill="#000" stroke-width="1.95"/>
<polygon points="772.8,456.3 778.7,454.0 782.7,457.5 782.7,463.4 777.5,466.2 772.4,463.4" fill="#fff" stroke-width="1.82"/>
<polyline points="775.2,455.9 775.7,464.8" stroke-width="1.82"/>
<ellipse cx="770.5" cy="461.5" rx="2.3" ry="4.7" fill="none" transform="rotate(-20.0 770.5 461.5)" stroke-width="1.82"/>
<polyline points="755.2,468.6 769.3,462.9" stroke-width="4.42"/>
<polyline points="753.6,466.9 755.9,470.4" stroke-width="1.82"/>
<polyline points="838.2,420.6 838.2,463.4" stroke-width="1.43"/>
<path d="M624.6,495.2C624.8,492.3 627.5,489.4 629.7,488.0C631.9,486.6 633.3,484.7 637.9,486.6C642.5,488.5 653.0,495.6 657.3,499.3C661.6,502.9 662.6,505.7 663.4,508.5C664.3,511.2 663.8,513.9 662.4,515.6C661.0,517.3 658.5,518.8 655.3,518.7C652.0,518.5 647.4,516.8 643.0,514.6C638.6,512.4 631.8,508.6 628.7,505.4C625.6,502.2 624.4,498.1 624.6,495.2Z" fill="#fff" stroke-width="1.95"/>
<ellipse cx="635.2" cy="499.3" rx="5.7" ry="7.8" fill="none" transform="rotate(-30.0 635.2 499.3)" stroke-width="1.95"/>
<ellipse cx="636.5" cy="500.1" rx="3.7" ry="5.7" fill="none" transform="rotate(-30.0 636.5 500.1)" stroke-width="1.95"/>
<ellipse cx="653.8" cy="509.9" rx="2.7" ry="3.3" fill="none" transform="rotate(-30.0 653.8 509.9)" stroke-width="1.95"/>
<path d="M626.6,493.5C627.4,493.0 629.3,490.8 631.1,490.1C633.0,489.3 633.7,487.2 637.9,489.0C642.1,490.9 652.4,497.9 656.3,501.3C660.2,504.7 660.5,508.1 661.4,509.5" fill="none" stroke-width="1.95"/>
<polygon points="671.6,474.7 698.2,464.5 704.3,483.9 677.7,493.5" fill="#fff" stroke-width="1.95"/>
<polyline points="674.7,480.9 700.2,470.6" stroke-width="1.95"/>
<polyline points="679.8,489.0 702.3,480.9" stroke-width="1.95"/>
<polyline points="677.7,483.9 679.8,492.1" stroke-width="1.95"/>
<path d="M659.3,478.4C660.3,474.1 667.2,473.9 670.0,474.3C672.8,474.7 674.8,478.1 676.1,480.9C677.4,483.7 678.0,488.5 677.7,491.1C677.5,493.6 676.9,494.7 674.7,496.2C672.5,497.7 667.0,503.0 664.5,500.1C661.9,497.1 658.4,482.7 659.3,478.4Z" fill="#fff" stroke-width="1.95"/>
<ellipse cx="661.8" cy="489.0" rx="8.6" ry="11.2" fill="#fff" transform="rotate(-20.0 661.8 489.0)" stroke-width="1.95"/>
<ellipse cx="661.4" cy="489.4" rx="6.1" ry="8.2" fill="none" transform="rotate(-20.0 661.4 489.4)" stroke-width="1.95"/>
<ellipse cx="661.0" cy="490.1" rx="3.1" ry="5.1" fill="none" transform="rotate(-20.0 661.0 490.1)" stroke-width="1.95"/>
<polyline points="658.3,487.4 663.8,492.3" stroke-width="1.95"/>
<ellipse cx="661.6" cy="489.2" rx="7.4" ry="9.6" fill="none" transform="rotate(-20.0 661.6 489.2)" stroke-width="2.86"/>
<path d="M691.0,462.5C690.5,460.1 695.6,458.7 698.2,458.4C700.7,458.0 701.9,457.9 706.3,460.4C710.8,463.0 720.8,470.3 724.7,473.7C728.6,477.1 729.5,478.5 729.8,480.9C730.2,483.3 728.6,486.1 726.8,488.0C724.9,489.9 721.3,491.9 718.6,492.1C715.9,492.3 712.8,490.4 710.4,489.0C708.0,487.7 705.8,486.7 704.3,483.9C702.8,481.2 703.4,476.3 701.2,472.7C699.0,469.1 691.5,464.9 691.0,462.5Z" fill="#fff" stroke-width="1.95"/>
<ellipse cx="717.0" cy="483.3" rx="2.5" ry="3.3" fill="none" transform="rotate(-20.0 717.0 483.3)" stroke-width="1.95"/>
<path d="M694.1,464.1C695.4,463.9 697.8,460.9 702.3,462.9C706.7,464.8 716.6,472.3 720.6,475.8C724.7,479.3 725.4,482.6 726.4,483.9" fill="none" stroke-width="1.95"/>
<path d="M698.2,465.5C698.8,467.1 700.7,471.7 702.3,474.7C703.8,477.8 706.5,482.4 707.4,483.9" fill="none" stroke-width="1.95"/>
<path d="M706.3,456.3C705.7,453.6 711.1,452.8 714.5,452.3C717.9,451.7 723.7,452.1 726.8,453.3C729.8,454.5 732.1,457.2 732.9,459.4C733.8,461.6 733.2,464.3 731.9,466.6C730.5,468.8 726.9,472.4 724.7,472.7C722.5,473.0 721.7,471.3 718.6,468.6C715.5,465.9 707.0,459.1 706.3,456.3Z" fill="#fff" stroke-width="1.95"/>
<path d="M718.6,452.7C719.0,454.0 721.1,457.8 721.1,460.4C721.1,463.1 719.0,467.2 718.6,468.6" fill="none" stroke-width="1.95"/>
<path d="M722.7,452.7C723.2,454.0 725.5,457.4 725.5,460.4C725.5,463.4 723.2,468.9 722.7,470.6" fill="none" stroke-width="1.95"/>
<path d="M726.8,453.5C727.2,454.6 729.2,457.6 729.2,460.4C729.2,463.3 727.2,468.9 726.8,470.6" fill="none" stroke-width="1.95"/>
<path d="M726.8,473.7C727.3,474.4 729.5,476.1 729.8,477.8C730.2,479.5 729.0,482.9 728.8,483.9" fill="none" stroke-width="1.95"/>
<path d="M704.3,448.2C704.6,446.3 705.5,442.6 707.4,441.0C709.2,439.5 713.5,438.1 715.5,439.0C717.6,439.8 719.5,443.6 719.6,446.1C719.8,448.7 718.3,452.8 716.6,454.3C714.9,455.8 711.3,455.7 709.4,455.3C707.5,455.0 706.2,453.5 705.3,452.3C704.5,451.1 704.0,450.0 704.3,448.2Z" fill="#fff" stroke-width="1.95"/>
<circle cx="712.5" cy="445.1" r="2.0" fill="none" stroke-width="1.95"/>
<polyline points="707.4,452.3 716.6,450.2" stroke-width="1.95"/>
<polygon points="700.6,499.3 707.4,499.3 707.4,505.4 711.9,505.4 703.9,514.8 696.1,505.4 700.6,505.4" fill="#000" stroke-width="1.95"/>
<polygon points="858.9,305.3 865.8,302.1 881.0,307.5 891.8,306.5 900.6,309.1 904.4,315.4 894.3,319.2 891.1,317.3" fill="#fff" stroke-width="1.95"/>
<polygon points="858.9,305.3 891.1,317.3 890.5,340.7 859.5,328.7" fill="#fff" stroke-width="1.95"/>
<polyline points="891.1,317.3 894.3,319.2" stroke-width="1.95"/>
<polygon points="879.7,294.5 886.7,290.7 890.5,292.0 890.5,294.5 884.8,297.7 884.8,304.0 888.0,305.3 888.0,307.8 881.0,305.3 880.4,304.0" fill="#fff" stroke-width="1.95"/>
<polyline points="879.7,294.5 883.2,296.1 884.8,297.7" stroke-width="1.95"/>
<polyline points="883.2,296.1 883.2,304.6" stroke-width="1.95"/>
<polygon points="890.5,295.8 895.6,293.2 900.0,294.5 900.0,297.0 894.3,300.2 907.6,304.0 908.2,305.9 900.6,309.1 891.8,306.5 890.8,302.7" fill="#fff" stroke-width="1.95"/>
<polyline points="890.5,295.8 893.7,297.7 894.3,300.2" stroke-width="1.95"/>
<polyline points="893.7,297.7 900.0,294.5" stroke-width="1.95"/>
<polyline points="895.6,300.8 895.8,304.0 900.6,305.5 907.6,304.0" stroke-width="1.95"/>
<polyline points="888.0,305.3 891.8,306.5" stroke-width="1.95"/>
<polygon points="894.3,319.2 904.4,315.4 910.8,312.2 915.8,313.5 921.5,317.3 924.7,324.2 924.1,332.5 915.8,334.4 915.8,344.5 908.2,347.7 894.3,342.0" fill="#fff" stroke-width="1.95"/>
<path d="M904.4,319.8C905.5,320.3 909.1,321.4 910.8,323.0C912.4,324.6 913.8,327.2 914.6,329.3C915.3,331.4 915.1,334.6 915.2,335.6" fill="none" stroke-width="1.95"/>
<polyline points="894.3,319.2 904.4,319.8" stroke-width="1.95"/>
<polyline points="903.2,312.2 909.5,309.7 912.0,311.6 905.7,314.7" stroke-width="1.95"/>
<polyline points="905.7,314.7 912.0,311.6 915.8,313.5" stroke-width="1.95"/>
<ellipse cx="901.3" cy="329.9" rx="4.4" ry="5.8" fill="none" transform="rotate(0.0 901.3 329.9)" stroke-width="1.95"/>
<ellipse cx="901.3" cy="329.9" rx="1.1" ry="3.4" fill="#000" transform="rotate(0.0 901.3 329.9)" stroke-width="1.95"/>
<ellipse cx="901.3" cy="329.9" rx="2.8" ry="4.3" fill="none" transform="rotate(0.0 901.3 329.9)" stroke-width="1.95"/>
<polyline points="910.8,335.6 915.8,334.4" stroke-width="1.95"/>
<polyline points="910.8,339.4 915.8,338.2" stroke-width="1.95"/>
<polyline points="910.8,343.5 915.8,342.2" stroke-width="1.95"/>
<polyline points="910.8,335.6 910.8,346.4" stroke-width="1.95"/>
<polygon points="880.4,343.2 888.0,343.2 888.0,349.3 893.0,349.3 884.4,358.7 875.9,349.3 880.4,349.3" fill="#000" stroke-width="1.95"/>
<polygon points="930.1,302.8 935.5,301.3 938.1,304.3 937.3,308.2 932.3,309.3 929.4,306.5" fill="#fff" stroke-width="1.95"/>
<polyline points="932.3,301.7 933.4,309.1" stroke-width="1.95"/>
<polyline points="935.1,301.5 936.0,308.7" stroke-width="1.95"/>
<polyline points="923.6,309.3 930.1,306.5" stroke-width="4.42"/>
<polyline points="925.1,307.4 926.4,310.0" stroke-width="1.3"/>
<polyline points="927.3,306.5 928.6,309.1" stroke-width="1.3"/>
<polyline points="922.5,307.8 924.2,310.8" stroke-width="1.95"/>
<polygon points="903.4,412.1 907.8,409.2 938.8,419.5 935.8,426.9 904.9,416.5" fill="#fff" stroke-width="1.95"/>
<polyline points="907.2,413.0 935.8,423.0" stroke-width="1.95"/>
<polyline points="927.0,415.9 925.5,419.5" stroke-width="1.95"/>
<path d="M938.8,416.5C942.2,413.5 953.7,415.0 957.9,415.9C962.1,416.9 963.1,418.4 963.8,422.4C964.6,426.5 963.6,436.4 962.3,440.1C961.1,443.8 959.6,444.3 956.5,444.5C953.3,444.8 946.4,443.3 943.2,441.6C940.0,439.9 938.0,438.4 937.3,434.2C936.6,430.0 935.3,419.6 938.8,416.5Z" fill="#fff" stroke-width="1.95"/>
<polygon points="942.6,423.9 957.9,423.0 958.5,438.6 943.8,437.8" stroke-width="1.95"/>
<polygon points="945.5,426.9 955.0,426.3 955.6,435.7 946.1,435.1" stroke-width="1.95"/>
<polyline points="950.3,426.6 950.6,435.4" stroke-width="1.95"/>
<polyline points="951.1,444.5 951.1,462.2" stroke-width="1.95"/>
<polygon points="859.2,437.2 863.6,433.6 897.5,443.1 894.5,451.9 862.1,441.6" fill="#fff" stroke-width="1.95"/>
<polyline points="863.0,437.2 895.4,447.5" stroke-width="1.95"/>
<polyline points="885.7,440.1 884.2,444.2" stroke-width="1.95"/>
<path d="M896.0,441.6C898.0,437.3 904.1,438.5 907.8,439.5C911.5,440.5 915.9,444.2 918.1,447.5C920.3,450.8 921.6,455.3 921.1,459.3C920.6,463.2 918.1,468.9 915.2,471.1C912.2,473.3 906.6,473.5 903.4,472.5C900.2,471.6 897.2,470.3 896.0,465.2C894.8,460.0 894.0,445.9 896.0,441.6Z" fill="#fff" stroke-width="1.95"/>
<path d="M900.4,440.7C900.2,443.1 898.5,449.7 899.0,454.9C899.5,460.1 902.6,469.1 903.4,472.0" fill="none" stroke-width="1.95"/>
<path d="M909.3,453.4C910.3,454.4 914.9,457.2 915.2,459.3C915.4,461.4 911.5,464.9 910.8,466.1" fill="none" stroke-width="1.95"/>
<polyline points="909.3,453.4 910.8,466.1" stroke-width="1.95"/>
<polyline points="906.3,474.0 906.3,485.8" stroke-width="1.95"/>
<polygon points="1037.1,297.5 1042.0,292.6 1063.7,304.2 1060.8,310.5 1037.6,300.4" fill="#fff" stroke-width="1.82"/>
<polyline points="1040.5,296.6 1061.4,307.1" stroke-width="1.82"/>
<polyline points="1043.4,293.7 1044.3,297.2" stroke-width="1.82"/>
<polyline points="1047.8,296.1 1048.6,299.5" stroke-width="1.82"/>
<polyline points="1052.1,298.4 1053.0,301.8" stroke-width="1.82"/>
<polyline points="1056.5,300.7 1057.3,304.2" stroke-width="1.82"/>
<path d="M1062.2,306.2C1063.9,302.6 1068.5,302.1 1072.4,301.8C1076.2,301.6 1083.0,302.1 1085.4,304.7C1087.8,307.4 1087.6,313.2 1086.9,317.8C1086.1,322.4 1083.7,329.6 1081.1,332.2C1078.4,334.9 1074.1,335.1 1070.9,333.7C1067.8,332.2 1063.7,328.1 1062.2,323.6C1060.8,319.0 1060.6,309.8 1062.2,306.2Z" fill="#fff" stroke-width="1.82"/>
<path d="M1068.0,309.1C1069.5,306.8 1073.4,306.9 1075.9,307.1C1078.3,307.2 1081.4,307.9 1082.5,310.0C1083.6,312.0 1083.2,316.2 1082.5,319.2C1081.8,322.2 1080.1,326.5 1078.2,327.9C1076.2,329.4 1072.8,329.1 1070.9,327.9C1069.1,326.7 1067.7,323.8 1067.2,320.7C1066.7,317.5 1066.6,311.4 1068.0,309.1Z" fill="none" stroke-width="1.82"/>
<polygon points="1074.7,313.4 1080.5,314.0 1078.7,325.0 1073.5,323.9" stroke-width="1.82"/>
<polyline points="1065.1,310.5 1066.6,323.6" stroke-width="1.82"/>
<polyline points="1069.5,306.2 1070.9,332.2" stroke-width="1.82"/>
<circle cx="1073.8" cy="340.9" r="11.6" fill="none" stroke-width="1.82"/>
<circle cx="1073.8" cy="340.9" r="9.8" fill="none" stroke-width="1.82"/>
<path d="M1057.9,354.0C1058.4,350.1 1061.8,346.6 1065.1,345.3C1068.5,343.9 1074.9,344.2 1078.2,345.9C1081.4,347.5 1083.8,351.9 1084.5,355.4C1085.3,358.9 1084.5,364.3 1082.5,367.0C1080.5,369.6 1075.8,371.1 1072.4,371.3C1069.0,371.6 1064.7,371.3 1062.2,368.4C1059.8,365.5 1057.4,357.8 1057.9,354.0Z" fill="#fff" stroke-width="1.82"/>
<path d="M1062.2,352.5C1063.5,351.8 1066.6,347.9 1069.5,348.2C1072.4,348.4 1077.9,353.0 1079.6,354.0" fill="none" stroke-width="1.82"/>
<polygon points="1065.1,352.5 1075.3,351.1 1077.6,355.4 1067.2,356.9" stroke-width="1.82"/>
<polyline points="1062.2,362.6 1081.1,368.4" stroke-width="1.82"/>
<polygon points="1064.3,369.9 1063.1,401.7 1069.5,405.5 1076.7,401.7 1077.6,371.3" fill="#fff" stroke-width="1.82"/>
<polyline points="1070.9,371.3 1070.4,403.8" stroke-width="1.82"/>
<polyline points="1064.3,380.0 1066.6,381.5 1064.3,384.4 1066.6,386.4 1064.0,389.3 1066.6,391.6 1063.7,394.5 1066.0,397.4" stroke-width="1.82"/>
<polyline points="1077.0,380.0 1074.7,382.3 1077.0,385.2 1074.7,388.1 1077.0,391.0 1074.7,393.9 1076.7,397.4" stroke-width="1.82"/>
<polygon points="1030.8,32.4 1052.3,22.3 1049.3,15.7 1064.5,19.0 1061.2,35.4 1057.9,29.9 1036.4,43.0" fill="#000" stroke-width="1.3"/>
<text transform="translate(1019,52) rotate(-27)" font-size="17.5" font-weight="bold" text-anchor="middle" style="stroke-width:0.3px">FR.</text>
<text x="212.5" y="34.5" font-size="16.0" text-anchor="middle">14</text>
<text x="331.5" y="70.7" font-size="16.0" text-anchor="middle">12</text>
<text x="500.2" y="115.5" font-size="16.0" text-anchor="middle">13</text>
<polyline points="212.5,38.0 212.5,60.0" stroke-width="1.3"/>
<polyline points="330.0,74.0 330.0,107.0" stroke-width="1.3"/>
<polyline points="499.5,79.0 499.5,101.0" stroke-width="1.3"/>
<text x="88.0" y="170.3" font-size="16.0" text-anchor="middle">26</text>
<text x="193.7" y="209.4" font-size="16.0" text-anchor="middle">25</text>
<text x="140.2" y="256.9" font-size="16.0" text-anchor="middle">16</text>
<text x="249.6" y="145.9" font-size="16.0" text-anchor="middle">21</text>
<text x="146.3" y="99.0" font-size="16.0" text-anchor="middle">35</text>
<polyline points="146.0,100.5 146.0,106.5" stroke-width="1.3"/>
<polyline points="94.7,139.0 94.7,155.0" stroke-width="1.3"/>
<polyline points="139.6,226.0 139.6,242.0" stroke-width="1.3"/>
<text x="409.8" y="254.5" font-size="16.0" text-anchor="middle">35</text>
<text x="478.3" y="271.2" font-size="16.0" text-anchor="middle">15</text>
<polyline points="409.2,228.0 409.2,238.0" stroke-width="1.3"/>
<polyline points="478.3,225.0 478.3,254.0" stroke-width="1.3"/>
<text x="311.5" y="261.7" font-size="16.0" text-anchor="middle">17</text>
<text x="311.5" y="292.1" font-size="16.0" text-anchor="middle">19</text>
<text x="345.7" y="297.6" font-size="16.0" text-anchor="middle">18</text>
<text x="407.2" y="312.5" font-size="16.0" text-anchor="middle">11</text>
<text x="728.0" y="51.9" font-size="16.0" text-anchor="middle">10</text>
<text x="675.6" y="69.6" font-size="16.0" text-anchor="middle">4</text>
<text x="783.7" y="62.0" font-size="16.0" text-anchor="middle">3</text>
<text x="770.6" y="189.5" font-size="16.0" text-anchor="middle">23</text>
<text x="989.6" y="89.9" font-size="16.0" text-anchor="middle">22</text>
<text x="1061.9" y="179.8" font-size="16.0" text-anchor="middle">24</text>
<text x="935.4" y="192.5" font-size="16.0" text-anchor="middle">7</text>
<text x="970.3" y="205.1" font-size="16.0" text-anchor="middle">5</text>
<text x="1016.9" y="227.9" font-size="16.0" text-anchor="middle">6</text>
<polyline points="935.9,197.5 935.9,218.0" stroke-width="1.3"/>
<polyline points="970.3,211.5 970.3,232.0" stroke-width="1.3"/>
<text x="899.3" y="263.3" font-size="16.0" text-anchor="middle">20</text>
<text x="677.1" y="330.6" font-size="14.0" text-anchor="middle" textLength="31.5" lengthAdjust="spacingAndGlyphs" style="stroke:none">B-41</text>
<text x="805.2" y="313.5" font-size="14.0" text-anchor="middle" textLength="46.3" lengthAdjust="spacingAndGlyphs" style="stroke:none">B-55-10</text>
<text x="767.4" y="436.4" font-size="13.5" text-anchor="middle" textLength="49.3" lengthAdjust="spacingAndGlyphs" style="stroke:none">B-53-10</text>
<text x="703.8" y="528.9" font-size="13.5" text-anchor="middle" textLength="46.0" lengthAdjust="spacingAndGlyphs" style="stroke:none">B 55-10</text>
<text x="839.8" y="477.5" font-size="16.0" text-anchor="middle">1</text>
<text x="681.7" y="279.5" font-size="16.0" text-anchor="middle">2</text>
<polyline points="681.7,230.0 681.7,263.0" stroke-width="1.3"/>
<text x="884.9" y="371.2" font-size="13.5" text-anchor="middle" textLength="51.0" lengthAdjust="spacingAndGlyphs" style="stroke:none">B-37 10</text>
<text x="950.6" y="477.0" font-size="16.0" text-anchor="middle">8</text>
<text x="905.7" y="502.0" font-size="16.0" text-anchor="middle">9</text>
<text transform="translate(855.3,529.2) scale(1.25,1)" font-size="11" letter-spacing="0.85" style="font-family:'Liberation Mono',monospace;stroke-width:0.15px">SM43-B1100G</text>
</svg>
</body></html>
